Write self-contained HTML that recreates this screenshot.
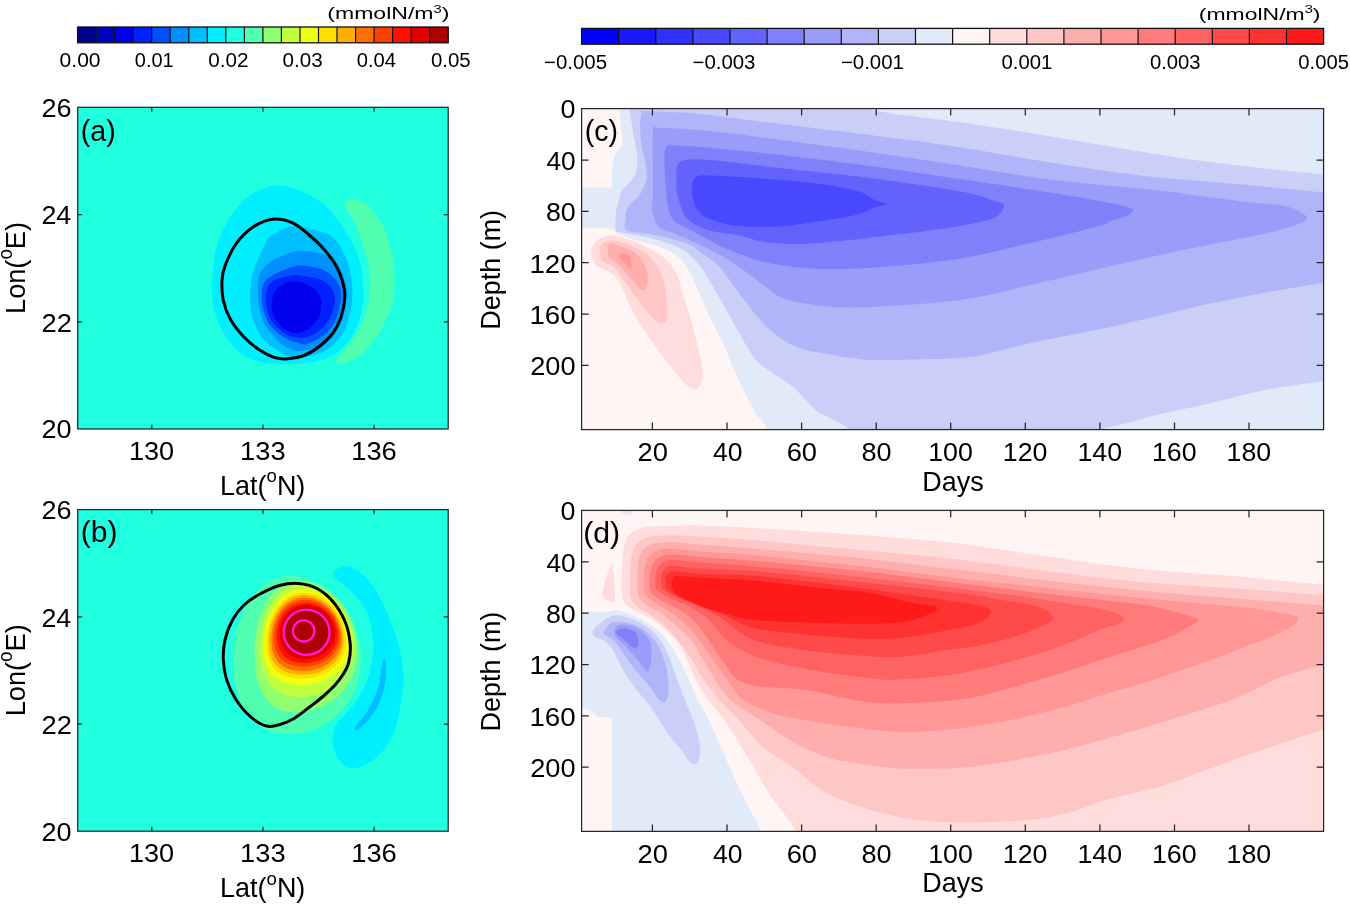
<!DOCTYPE html><html><head><meta charset="utf-8"><style>html,body{margin:0;padding:0;background:#fff;}svg{display:block;}text{font-family:"Liberation Sans", sans-serif;fill:#000;}</style></head><body>
<svg width="1350" height="906" viewBox="0 0 1350 906">
<rect width="1350" height="906" fill="#fff"/>
<defs><clipPath id="ca"><rect x="77.7" y="107.3" width="370.5" height="321.7"/></clipPath><clipPath id="cb"><rect x="77.7" y="509.6" width="370.5" height="321.6"/></clipPath><clipPath id="cc"><rect x="581.6" y="108.6" width="742" height="321"/></clipPath><clipPath id="cd"><rect x="581.6" y="510.4" width="742" height="321"/></clipPath><filter id="gs" x="0" y="0" width="1350" height="906" filterUnits="userSpaceOnUse"><feOffset dx="0" dy="0"/></filter></defs>
<g clip-path="url(#ca)">
<rect x="77.7" y="107.3" width="370.5" height="321.7" fill="#20FFDF"/>
<path d="M274 185.5C279.3 184.9 284.6 186.2 290 187.5C295.4 188.8 300.4 190 306.5 193.2C312.6 196.4 320.4 201 326.4 206.5C332.4 212 337.7 219.8 342.3 226.4C346.9 233 351.1 239.6 354.2 246.2C357.3 252.8 359.3 259.5 360.8 266.1C362.3 272.7 362.6 280.4 363 286C363.4 291.6 364 294.4 363.4 300C362.8 305.6 361.5 313.5 359.5 319.7C357.5 325.9 355 331.7 351.5 337C348 342.3 343.6 347.5 338.3 351.5C333 355.5 327.2 358.7 319.7 360.8C312.2 362.9 301.5 363.7 293.2 364.1C284.9 364.6 276.3 364.1 270 363.5C263.7 362.9 260.6 362.5 255.6 360.7C250.5 358.9 244.5 356.5 239.7 352.7C234.8 348.9 230.2 343.6 226.5 338.1C222.8 332.6 219.5 326 217.2 319.6C214.9 313.2 213.4 307.3 212.6 300C211.8 292.7 212 284.4 212.6 276C213.2 267.6 213.6 258.3 215.9 249.5C218.2 240.7 221.9 231.2 226.5 223C231.1 214.8 238.4 205.8 243.7 200.5C248.9 195.2 252.9 193.5 258 191C263.1 188.5 268.7 186.1 274 185.5Z" fill="#00EFFF"/>
<path d="M345 203C345.7 201.6 348.3 200.1 350 199.5C351.7 198.9 352.5 198.9 355 199.5C357.5 200.1 361.4 200.4 365 203C368.6 205.6 373.3 210.8 376.6 215.3C379.9 219.8 382.8 224.8 385 230C387.2 235.2 388.4 240.4 389.8 246.2C391.2 252 392.8 259.5 393.5 265C394.2 270.5 394.6 272.9 394.3 279.3C394.1 285.7 394.2 295.1 392 303.6C389.8 312.1 386.1 321.6 381 330.1C375.9 338.6 367.7 348.9 361.1 354.4C354.5 359.9 345.4 362.1 341.3 363.2C337.2 364.3 335.7 363.5 336.5 361C337.3 358.5 342 353.7 346 348C350 342.3 356.8 334.8 360.5 327C364.2 319.2 366.9 308.9 368.5 301C370.1 293.1 370.5 287.3 370 279.3C369.5 271.3 368 262 365.5 252.8C363 243.6 358.3 231.5 355 224C351.7 216.5 347.4 211.5 345.7 208C344 204.5 344.3 204.4 345 203Z" fill="#50FFAF"/>
<path d="M285.6 227.8C288.6 226.7 291.4 226.1 294.4 226C297.3 225.9 299.8 226.5 303.3 227.2C306.8 227.9 310.8 228.8 315.2 230.1C319.6 231.4 325.9 232.3 330 235C334.1 237.7 337.1 241.7 340 246.2C342.9 250.7 345.6 256.4 347.5 262.1C349.4 267.9 350.7 274.4 351.5 280.7C352.3 287 352.9 293.1 352.2 300C351.5 306.9 349.8 315.8 347.5 322.4C345.2 329 342.3 334.8 338.3 339.6C334.3 344.5 329.4 348.6 323.7 351.5C317.9 354.4 309.4 356.1 303.8 357C298.2 357.9 294.1 357.9 290 357C285.9 356.1 283.9 354.3 279.5 351.4C275.1 348.5 268 344.8 263.6 339.5C259.2 334.2 255.2 326.2 253 319.6C250.8 313 250.7 305.8 250.3 300C249.9 294.2 250.3 290 250.8 285C251.3 280 252.3 274.2 253.5 270C254.7 265.8 255.3 265.1 257.7 260C260.1 254.9 264.6 244.2 267.8 239.6C271 235 273.7 234.5 276.7 232.5C279.7 230.5 282.7 228.9 285.6 227.8Z" fill="#00BFFF"/>
<path d="M295 251.5C299.1 250.8 301.7 251.1 306.5 251.5C311.3 251.9 318.8 252.4 323.7 254.2C328.6 256 332.4 258.6 335.6 262.1C338.8 265.6 341.2 270.8 343 275.4C344.8 280 346 285.9 346.5 290C347 294.1 346.9 295.1 346.2 300C345.5 304.9 344.5 313.8 342.3 319.7C340.1 325.6 336.8 331.2 333 335.6C329.2 340 325.2 343.6 319.7 346.2C314.2 348.8 305.6 350.9 300 351C294.4 351.1 289.9 348.9 286 347C282.1 345.1 280.5 343.6 276.8 339.5C273.1 335.4 266.7 328.9 263.6 322.3C260.5 315.7 259.2 307.1 258.3 300C257.4 292.9 257.7 285 258.3 280C258.9 275 260.1 273 262 270C263.9 267 266.6 264.3 270 262C273.4 259.7 277.9 257.8 282.1 256C286.3 254.2 290.9 252.2 295 251.5Z" fill="#008FFF"/>
<path d="M300 265.5C304.8 265.2 310.6 266.5 315 267.5C319.4 268.5 322.9 269.3 326.4 271.4C329.9 273.5 333.6 276.9 336 280C338.4 283.1 339.7 286.7 340.5 290C341.3 293.3 341.7 295.1 340.9 300C340.1 304.9 338.5 313.8 335.6 319.7C332.7 325.6 328.6 331.6 323.7 335.6C318.8 339.7 310.6 342.7 306.5 344C302.4 345.3 302.2 343.9 299.3 343.2C296.4 342.5 292.1 341.4 289 340C285.9 338.6 284.4 337.7 281 335C277.6 332.3 272 328.8 268.9 323.6C265.8 318.4 263.3 310.1 262.3 303.7C261.3 297.3 261.5 289.6 263 285C264.5 280.4 267.6 278.7 271.5 276C275.4 273.3 281.4 270.8 286.1 269C290.9 267.2 295.2 265.8 300 265.5Z" fill="#0050FF"/>
<path d="M290 276C294.1 275.2 294.9 274.8 299.9 275.4C304.8 275.9 314.5 277.3 319.7 279.3C324.9 281.3 328.4 283.9 331 287.3C333.6 290.8 335.1 295 335 300C334.9 305 332.9 312.1 330.3 317.1C327.8 322.2 323.9 326.9 319.7 330.3C315.5 333.7 309.9 336.6 305 337.5C300.1 338.4 294.6 337.6 290.1 336C285.6 334.4 281.4 331 278 328C274.6 325 272 322.1 270 318C268 313.9 266.6 308.7 266.2 303.7C265.8 298.7 266 291.9 267.5 288C269 284.1 271.2 282 275 280C278.8 278 285.9 276.8 290 276Z" fill="#0020FF"/>
<path d="M292.7 281.3C296.5 281.1 301.1 282.1 305 283.5C308.9 284.9 313.3 287.2 316 290C318.7 292.8 320.3 295.8 321 300C321.7 304.2 321.7 310.5 320 315C318.3 319.5 314.7 324 311 327C307.3 330 302.2 332.5 298 333C293.8 333.5 289.7 332.2 286 330C282.3 327.8 278.4 323.7 276 320C273.6 316.3 271.8 312.2 271.5 307.7C271.2 303.2 272.4 296.9 274.2 293.1C275.9 289.3 278.9 287 282 285C285.1 283 288.9 281.6 292.7 281.3Z" fill="#0000EF"/>
<path d="M274.5 219C281.2 218.4 287.4 220.5 293.2 223.2C299 225.9 304 230.7 309.1 235C314.2 239.3 319.3 243.9 323.7 248.9C328.1 253.9 332.5 259.5 335.6 264.8C338.7 270.1 340.8 275.3 342.3 280.7C343.8 286.1 345 290.9 344.8 297C344.6 303.1 343 311.1 341 317.1C339 323.1 336.6 328.1 333 333C329.4 337.9 324.5 342.4 319.7 346.2C314.9 349.9 309.3 353.4 304 355.5C298.7 357.6 293 358.5 288 358.8C283 359.1 278.9 358.9 274.2 357.4C269.5 355.9 264.7 353.4 259.6 350C254.5 346.6 248.5 341.9 243.7 336.8C238.8 331.7 233.9 325.7 230.5 319.6C227.1 313.5 224.6 306.6 223.2 300C221.8 293.4 221.7 285.8 222 280C222.3 274.2 222.9 271.4 225.2 265.4C227.5 259.4 231.2 250.6 235.8 244.2C240.4 237.8 246.6 231.2 253 227C259.4 222.8 267.8 219.6 274.5 219Z" fill="none" stroke="#000" stroke-width="3"/>
</g>
<g clip-path="url(#cb)">
<rect x="77.7" y="509.6" width="370.5" height="321.6" fill="#20FFDF"/>
<path d="M335.2 570.3C337.8 568.4 344.6 564.4 350.5 566.5C356.4 568.6 364.5 574.8 370.8 583C377.1 591.2 383.4 603.7 388.5 616C393.6 628.3 398.9 643.9 401.2 656.6C403.5 669.3 403.8 679.4 402.5 692.1C401.2 704.8 398.1 721.7 393.6 732.7C389.2 743.7 382.6 752.2 375.8 758.1C369 764 359.3 768.3 353 768.3C346.7 768.3 341.2 763.2 337.8 758.1C334.4 753 332.7 743.7 332.7 737.8C332.7 731.9 334 728.5 337.8 722.6C341.6 716.7 350.4 709.9 355.5 702.3C360.6 694.7 365.2 686.2 368.2 676.9C371.2 667.6 373.3 656.5 373.3 646.4C373.3 636.2 371.6 624.9 368.2 616C364.8 607.1 358.5 599.5 353 593.1C347.5 586.8 338.2 581.7 335.2 577.9C332.2 574.1 332.6 572.2 335.2 570.3Z" fill="#00EFFF"/>
<path d="M384.7 659.1C385.4 661.1 386.9 669.7 386 676.9C385.1 684.1 382.6 695.1 379.6 702.3C376.6 709.5 372 715.4 368.2 720C364.4 724.6 358.8 729.2 356.8 730.2C354.8 731.2 354.1 729.4 356 726C357.9 722.6 364.5 716.4 368.2 709.9C371.9 703.4 376.1 694.6 378.4 687.1C380.7 679.6 380.9 669.7 382 665C383.1 660.3 384 657.1 384.7 659.1Z" fill="#00BFFF"/>
<path d="M361 660C361 662.3 360.9 664.3 360.7 666.4C360.6 668.6 360.3 670.7 359.9 672.8C359.6 675 359.1 677.1 358.6 679.2C358 681.2 357.4 683.3 356.7 685.3C356 687.3 355.2 689.3 354.3 691.3C353.5 693.2 352.5 695.1 351.5 697C350.5 698.9 349.3 700.7 348.2 702.4C347 704.2 345.7 705.9 344.4 707.6C343.1 709.2 341.7 710.8 340.2 712.3C338.7 713.8 337.2 715.3 335.6 716.7C334.1 718.1 332.4 719.4 330.7 720.6C329 721.9 327.3 723 325.5 724.1C323.7 725.2 321.9 726.2 320 727.1C318.1 728 316.2 728.8 314.3 729.5C312.3 730.3 310.4 730.9 308.4 731.5C306.4 732 304.4 732.5 302.3 732.9C300.3 733.2 298.2 733.5 296.2 733.7C294.1 733.9 292.2 734 290 734C287.8 734 285.2 733.9 283.2 733.8C281.1 733.6 279.4 733.3 277.6 733C275.8 732.7 274.1 732.3 272.4 731.8C270.7 731.3 269.1 730.7 267.6 730.1C266 729.5 264.5 728.7 263 727.9C261.6 727.1 260.2 726.3 258.8 725.3C257.4 724.3 256.1 723.3 254.8 722.2C253.6 721.1 252.4 719.9 251.2 718.7C250 717.4 248.9 716.1 247.8 714.7C246.8 713.4 245.7 711.9 244.8 710.4C243.8 708.9 242.9 707.3 242.1 705.6C241.2 704 240.4 702.3 239.7 700.5C239 698.7 238.3 696.9 237.7 695C237.1 693.1 236.5 691.1 236 689.1C235.5 687.1 235.1 685 234.7 682.8C234.3 680.7 234 678.5 233.8 676.1C233.5 673.8 233.3 671.6 233.2 668.9C233.1 666.2 233 662.7 233 660C233 657.3 233.1 655.1 233.2 652.7C233.4 650.2 233.6 647.8 233.9 645.4C234.2 643 234.5 640.6 234.9 638.3C235.4 635.9 235.9 633.6 236.4 631.3C237 629 237.6 626.7 238.3 624.5C239 622.3 239.8 620.1 240.6 618C241.5 615.9 242.4 613.8 243.3 611.8C244.3 609.8 245.3 607.9 246.3 606C247.4 604.1 248.5 602.3 249.7 600.6C250.9 598.9 252.1 597.2 253.4 595.7C254.6 594.1 255.9 592.6 257.3 591.2C258.7 589.8 260.1 588.5 261.5 587.3C262.9 586 264.4 584.9 265.9 583.9C267.4 582.8 268.9 581.9 270.5 581.1C272.1 580.2 273.6 579.5 275.2 578.9C276.8 578.2 278.5 577.7 280.1 577.3C281.7 576.9 283.4 576.5 285 576.3C286.7 576.1 288.1 576 290 576C291.9 576 294.1 576.1 296.2 576.3C298.2 576.5 300.3 576.9 302.3 577.3C304.4 577.7 306.4 578.2 308.4 578.9C310.4 579.5 312.3 580.2 314.3 581.1C316.2 581.9 318.1 582.8 320 583.9C321.9 584.9 323.7 586 325.5 587.3C327.3 588.5 329 589.8 330.7 591.2C332.4 592.6 334.1 594.1 335.6 595.7C337.2 597.2 338.7 598.9 340.2 600.6C341.7 602.3 343.1 604.1 344.4 606C345.7 607.9 347 609.8 348.2 611.8C349.3 613.8 350.5 615.9 351.5 618C352.5 620.1 353.5 622.3 354.3 624.5C355.2 626.7 356 629 356.7 631.3C357.4 633.6 358 635.9 358.6 638.3C359.1 640.6 359.6 643 359.9 645.4C360.3 647.8 360.6 650.2 360.7 652.7C360.9 655.1 361 657.7 361 660Z" fill="#50FFAF"/>
<path d="M357.4 652C357.4 653.9 357.3 655.5 357.2 657.2C357 659 356.8 660.7 356.5 662.4C356.2 664.1 355.8 665.8 355.3 667.5C354.8 669.2 354.3 670.9 353.7 672.5C353.1 674.2 352.4 675.8 351.6 677.4C350.9 678.9 350.1 680.5 349.2 682C348.3 683.5 347.3 685 346.3 686.4C345.3 687.8 344.2 689.2 343 690.6C341.9 691.9 340.7 693.2 339.4 694.4C338.2 695.7 336.8 696.8 335.5 698C334.1 699.1 332.7 700.1 331.2 701.1C329.8 702.1 328.2 703.1 326.7 704C325.2 704.8 323.6 705.6 321.9 706.4C320.3 707.1 318.7 707.8 317 708.4C315.3 709 313.6 709.5 311.9 710C310.2 710.4 308.4 710.8 306.7 711.1C304.9 711.4 303.1 711.6 301.4 711.8C299.6 711.9 297.8 712 296 712C294.2 712 292.2 711.9 290.6 711.8C289 711.7 287.7 711.5 286.4 711.2C285 711 283.8 710.7 282.5 710.3C281.3 709.9 280.2 709.5 279 709C277.9 708.5 276.8 707.9 275.8 707.3C274.7 706.7 273.7 706 272.7 705.2C271.7 704.5 270.8 703.7 269.9 702.8C269 701.9 268.1 701 267.3 700.1C266.5 699.1 265.7 698 264.9 696.9C264.2 695.9 263.4 694.7 262.8 693.5C262.1 692.3 261.5 691.1 260.9 689.8C260.3 688.4 259.7 687.1 259.2 685.7C258.7 684.3 258.2 682.8 257.8 681.3C257.3 679.7 256.9 678.2 256.6 676.5C256.2 674.9 255.9 673.2 255.7 671.5C255.4 669.7 255.2 667.9 255 665.9C254.9 664 254.7 662.2 254.6 659.9C254.5 657.5 254.5 654.3 254.5 652C254.5 649.7 254.6 647.9 254.7 645.8C254.8 643.8 254.9 641.7 255.1 639.7C255.3 637.6 255.6 635.6 255.9 633.6C256.2 631.6 256.6 629.7 257 627.7C257.4 625.8 257.9 623.9 258.4 622C258.9 620.1 259.5 618.3 260.1 616.5C260.7 614.7 261.3 613 262 611.3C262.7 609.6 263.4 607.9 264.2 606.4C265 604.8 265.8 603.3 266.7 601.8C267.5 600.3 268.4 598.9 269.3 597.6C270.2 596.3 271.2 595 272.2 593.8C273.2 592.7 274.2 591.5 275.2 590.5C276.3 589.5 277.4 588.5 278.5 587.7C279.6 586.8 280.7 586 281.8 585.3C282.9 584.6 284.1 584 285.3 583.4C286.4 582.9 287.6 582.4 288.8 582.1C290 581.7 291.2 581.4 292.4 581.3C293.6 581.1 294.5 581 296 581C297.5 581 299.6 581.1 301.4 581.3C303.1 581.4 304.9 581.7 306.7 582.1C308.4 582.4 310.2 582.9 311.9 583.4C313.6 584 315.3 584.6 317 585.3C318.7 586 320.3 586.8 321.9 587.7C323.6 588.5 325.2 589.5 326.7 590.5C328.2 591.5 329.8 592.7 331.2 593.8C332.7 595 334.1 596.3 335.5 597.6C336.8 598.9 338.2 600.3 339.4 601.8C340.7 603.3 341.9 604.8 343 606.4C344.2 607.9 345.3 609.6 346.3 611.3C347.3 613 348.3 614.7 349.2 616.5C350.1 618.3 350.9 620.1 351.6 622C352.4 623.9 353.1 625.8 353.7 627.7C354.3 629.7 354.8 631.6 355.3 633.6C355.8 635.6 356.2 637.6 356.5 639.7C356.8 641.7 357 643.8 357.2 645.8C357.3 647.9 357.4 650.1 357.4 652Z" fill="#8FFF70"/>
<path d="M354 648C354 649.6 353.9 650.9 353.8 652.3C353.7 653.7 353.5 655.1 353.2 656.5C352.9 657.9 352.6 659.3 352.2 660.7C351.8 662.1 351.3 663.4 350.7 664.8C350.2 666.1 349.6 667.4 348.9 668.7C348.3 670 347.5 671.3 346.8 672.5C346 673.7 345.1 674.9 344.2 676.1C343.3 677.3 342.4 678.4 341.4 679.5C340.4 680.6 339.3 681.6 338.2 682.6C337.1 683.7 335.9 684.6 334.7 685.5C333.5 686.5 332.3 687.3 331 688.1C329.7 689 328.4 689.7 327 690.4C325.6 691.1 324.2 691.8 322.8 692.4C321.4 693 319.9 693.6 318.5 694C317 694.5 315.5 695 314 695.3C312.5 695.7 310.9 696 309.4 696.3C307.8 696.5 306.3 696.7 304.7 696.8C303.1 696.9 301.7 697 300 697C298.3 697 296.3 696.9 294.8 696.8C293.2 696.7 292 696.6 290.7 696.4C289.4 696.2 288.2 695.9 287 695.6C285.9 695.3 284.7 694.9 283.6 694.5C282.5 694.1 281.5 693.7 280.5 693.1C279.5 692.6 278.5 692.1 277.6 691.5C276.6 690.9 275.7 690.2 274.8 689.5C274 688.8 273.1 688 272.3 687.2C271.5 686.4 270.8 685.6 270 684.7C269.3 683.8 268.6 682.9 268 681.9C267.3 680.9 266.7 679.9 266.1 678.8C265.6 677.8 265 676.7 264.5 675.5C264 674.3 263.6 673.1 263.1 671.9C262.7 670.7 262.4 669.4 262 668C261.7 666.7 261.4 665.3 261.1 663.9C260.9 662.4 260.7 661 260.5 659.4C260.3 657.8 260.2 656.3 260.1 654.4C260 652.5 260 650 260 648C260 646 260.1 644.3 260.2 642.5C260.3 640.7 260.4 638.9 260.6 637.1C260.8 635.3 261.1 633.5 261.4 631.7C261.7 629.9 262 628.2 262.4 626.5C262.8 624.7 263.3 623 263.7 621.4C264.2 619.7 264.8 618.1 265.4 616.5C265.9 614.9 266.6 613.4 267.2 611.9C267.9 610.4 268.6 608.9 269.4 607.5C270.1 606.1 270.9 604.7 271.7 603.5C272.5 602.2 273.4 600.9 274.3 599.7C275.2 598.6 276.1 597.4 277.1 596.4C278 595.3 279 594.4 280 593.4C281 592.5 282 591.7 283.1 590.9C284.1 590.1 285.2 589.4 286.3 588.8C287.4 588.2 288.5 587.6 289.6 587.1C290.8 586.7 291.9 586.3 293.1 586C294.2 585.6 295.4 585.4 296.5 585.2C297.7 585.1 298.6 585 300 585C301.4 585 303.1 585.1 304.7 585.2C306.3 585.4 307.8 585.6 309.4 586C310.9 586.3 312.5 586.7 314 587.1C315.5 587.6 317 588.2 318.5 588.8C319.9 589.4 321.4 590.1 322.8 590.9C324.2 591.7 325.6 592.5 327 593.4C328.4 594.4 329.7 595.3 331 596.4C332.3 597.4 333.5 598.6 334.7 599.7C335.9 600.9 337.1 602.2 338.2 603.5C339.3 604.7 340.4 606.1 341.4 607.5C342.4 608.9 343.3 610.4 344.2 611.9C345.1 613.4 346 614.9 346.8 616.5C347.5 618.1 348.3 619.7 348.9 621.4C349.6 623 350.2 624.7 350.7 626.5C351.3 628.2 351.8 629.9 352.2 631.7C352.6 633.5 352.9 635.3 353.2 637.1C353.5 638.9 353.7 640.7 353.8 642.5C353.9 644.3 354 646.4 354 648Z" fill="#BFFF40"/>
<path d="M350 645C350 646.4 349.9 647.3 349.8 648.5C349.7 649.6 349.5 650.8 349.3 651.9C349 653.1 348.7 654.2 348.4 655.4C348 656.5 347.6 657.6 347.1 658.7C346.6 659.8 346.1 660.9 345.5 661.9C344.9 663 344.3 664 343.6 665C342.9 666 342.1 667 341.3 667.9C340.5 668.9 339.7 669.8 338.8 670.7C337.9 671.6 336.9 672.5 335.9 673.3C335 674.1 333.9 674.9 332.9 675.6C331.8 676.4 330.7 677.1 329.5 677.8C328.4 678.4 327.2 679.1 326 679.6C324.8 680.2 323.5 680.8 322.3 681.3C321 681.7 319.7 682.2 318.4 682.6C317.1 683 315.8 683.3 314.4 683.6C313.1 683.9 311.7 684.2 310.3 684.4C309 684.6 307.6 684.7 306.2 684.8C304.8 684.9 303.6 685 302 685C300.4 685 298.1 685 296.5 684.9C295 684.8 293.8 684.7 292.5 684.5C291.2 684.4 290.1 684.1 288.9 683.9C287.8 683.7 286.7 683.4 285.7 683.1C284.6 682.7 283.6 682.4 282.7 682C281.7 681.6 280.8 681.1 279.9 680.7C279 680.2 278.1 679.7 277.3 679.1C276.5 678.5 275.7 678 275 677.3C274.2 676.7 273.5 676 272.8 675.3C272.1 674.6 271.5 673.9 270.9 673.1C270.3 672.3 269.7 671.5 269.2 670.6C268.6 669.8 268.1 668.9 267.7 668C267.2 667 266.8 666.1 266.4 665.1C266 664.1 265.7 663 265.4 662C265.1 660.9 264.8 659.7 264.6 658.6C264.3 657.4 264.1 656.2 264 654.9C263.8 653.5 263.7 652.3 263.6 650.7C263.5 649 263.5 646.8 263.5 645C263.5 643.2 263.5 641.7 263.6 640.1C263.7 638.5 263.9 636.9 264.1 635.3C264.3 633.7 264.5 632.1 264.8 630.5C265.1 628.9 265.4 627.4 265.8 625.8C266.2 624.3 266.6 622.8 267.1 621.3C267.6 619.9 268.1 618.4 268.7 617C269.2 615.6 269.8 614.2 270.5 612.9C271.1 611.5 271.8 610.3 272.5 609C273.2 607.8 274 606.6 274.8 605.4C275.6 604.3 276.4 603.1 277.3 602.1C278.1 601.1 279 600.1 279.9 599.1C280.8 598.2 281.8 597.3 282.8 596.5C283.7 595.7 284.7 594.9 285.7 594.2C286.7 593.6 287.8 592.9 288.8 592.4C289.9 591.8 291 591.3 292 590.9C293.1 590.5 294.2 590.1 295.3 589.9C296.4 589.6 297.5 589.4 298.6 589.2C299.8 589.1 300.7 589 302 589C303.3 589 304.8 589.1 306.2 589.2C307.6 589.4 309 589.6 310.3 589.9C311.7 590.1 313.1 590.5 314.4 590.9C315.8 591.3 317.1 591.8 318.4 592.4C319.7 592.9 321 593.6 322.3 594.2C323.5 594.9 324.8 595.7 326 596.5C327.2 597.3 328.4 598.2 329.5 599.1C330.7 600.1 331.8 601.1 332.9 602.1C333.9 603.1 335 604.3 335.9 605.4C336.9 606.6 337.9 607.8 338.8 609C339.7 610.3 340.5 611.5 341.3 612.9C342.1 614.2 342.9 615.6 343.6 617C344.3 618.4 344.9 619.9 345.5 621.3C346.1 622.8 346.6 624.3 347.1 625.8C347.6 627.4 348 628.9 348.4 630.5C348.7 632.1 349 633.7 349.3 635.3C349.5 636.9 349.7 638.5 349.8 640.1C349.9 641.7 350 643.6 350 645Z" fill="#EFFF10"/>
<path d="M346.1 643C346.1 644.2 346 645.1 345.9 646.1C345.8 647.1 345.7 648.1 345.4 649.2C345.2 650.2 345 651.2 344.6 652.2C344.3 653.2 343.9 654.2 343.5 655.1C343.1 656.1 342.6 657.1 342.1 658C341.5 658.9 341 659.9 340.3 660.8C339.7 661.6 339 662.5 338.3 663.4C337.6 664.2 336.8 665 336 665.8C335.2 666.6 334.4 667.4 333.5 668.1C332.6 668.8 331.7 669.5 330.7 670.2C329.7 670.9 328.7 671.5 327.7 672.1C326.7 672.7 325.6 673.2 324.6 673.7C323.5 674.3 322.3 674.7 321.2 675.2C320.1 675.6 318.9 676 317.7 676.4C316.6 676.7 315.4 677 314.2 677.3C312.9 677.6 311.7 677.8 310.5 678C309.3 678.1 308 678.3 306.8 678.4C305.5 678.5 304.5 678.5 303 678.5C301.5 678.5 299.3 678.5 297.8 678.4C296.3 678.3 295.2 678.2 294 678.1C292.8 677.9 291.7 677.7 290.7 677.5C289.6 677.3 288.6 677.1 287.6 676.8C286.6 676.5 285.6 676.2 284.7 675.8C283.8 675.5 282.9 675.1 282.1 674.6C281.3 674.2 280.4 673.8 279.7 673.3C278.9 672.8 278.1 672.2 277.4 671.7C276.7 671.1 276.1 670.5 275.4 669.9C274.8 669.3 274.2 668.6 273.6 667.9C273 667.2 272.5 666.5 272 665.8C271.5 665 271 664.2 270.6 663.4C270.1 662.6 269.7 661.7 269.4 660.8C269 659.9 268.7 659 268.4 658C268.1 657.1 267.8 656.1 267.6 655C267.4 654 267.2 652.9 267 651.7C266.9 650.6 266.8 649.5 266.7 648C266.6 646.6 266.6 644.6 266.6 643C266.6 641.4 266.6 640.1 266.7 638.6C266.8 637.1 267 635.7 267.2 634.2C267.3 632.8 267.6 631.3 267.8 629.9C268.1 628.5 268.4 627.1 268.8 625.7C269.2 624.3 269.6 623 270 621.7C270.5 620.3 270.9 619 271.5 617.8C272 616.5 272.6 615.2 273.2 614C273.8 612.8 274.4 611.7 275.1 610.5C275.8 609.4 276.5 608.3 277.3 607.3C278 606.3 278.8 605.3 279.6 604.3C280.4 603.4 281.3 602.5 282.1 601.6C283 600.8 283.9 600 284.8 599.3C285.7 598.5 286.7 597.9 287.6 597.2C288.6 596.6 289.6 596 290.6 595.5C291.5 595 292.6 594.6 293.6 594.2C294.6 593.8 295.6 593.5 296.7 593.3C297.7 593 298.8 592.8 299.8 592.7C300.9 592.6 301.8 592.5 303 592.5C304.2 592.5 305.5 592.6 306.8 592.7C308 592.8 309.3 593 310.5 593.3C311.7 593.5 312.9 593.8 314.2 594.2C315.4 594.6 316.6 595 317.7 595.5C318.9 596 320.1 596.6 321.2 597.2C322.3 597.9 323.5 598.5 324.5 599.3C325.6 600 326.7 600.8 327.7 601.6C328.7 602.5 329.7 603.4 330.7 604.3C331.7 605.3 332.6 606.3 333.5 607.3C334.4 608.3 335.2 609.4 336 610.5C336.8 611.7 337.6 612.8 338.3 614C339 615.2 339.7 616.5 340.3 617.8C341 619 341.5 620.3 342.1 621.7C342.6 623 343.1 624.3 343.5 625.7C343.9 627.1 344.3 628.5 344.6 629.9C345 631.3 345.2 632.8 345.4 634.2C345.7 635.7 345.8 637.1 345.9 638.6C346 640.1 346.1 641.8 346.1 643Z" fill="#FFDF00"/>
<path d="M343.4 641C343.4 642.2 343.3 643 343.2 643.9C343.1 644.9 343 645.9 342.8 646.8C342.6 647.8 342.3 648.7 342 649.7C341.7 650.6 341.4 651.5 341 652.5C340.6 653.4 340.2 654.3 339.7 655.2C339.2 656 338.6 656.9 338.1 657.8C337.5 658.6 336.8 659.4 336.2 660.2C335.5 661 334.8 661.8 334.1 662.5C333.3 663.3 332.5 664 331.7 664.7C330.9 665.4 330 666 329.1 666.7C328.3 667.3 327.3 667.9 326.4 668.4C325.4 669 324.5 669.5 323.4 670C322.4 670.5 321.4 671 320.4 671.4C319.3 671.8 318.2 672.1 317.1 672.5C316.1 672.8 314.9 673.1 313.8 673.4C312.7 673.6 311.6 673.8 310.4 674C309.3 674.2 308.1 674.3 307 674.4C305.8 674.5 304.9 674.5 303.5 674.5C302.1 674.5 300 674.5 298.6 674.4C297.1 674.3 296.1 674.2 294.9 674.1C293.8 674 292.8 673.8 291.7 673.6C290.7 673.4 289.7 673.1 288.8 672.9C287.8 672.6 286.9 672.3 286.1 672C285.2 671.6 284.4 671.3 283.6 670.9C282.8 670.5 282 670 281.3 669.6C280.5 669.1 279.8 668.6 279.1 668.1C278.5 667.5 277.8 667 277.2 666.4C276.6 665.8 276 665.2 275.5 664.5C274.9 663.9 274.4 663.2 273.9 662.5C273.4 661.8 273 661 272.6 660.2C272.2 659.5 271.8 658.7 271.4 657.8C271.1 657 270.8 656.1 270.5 655.2C270.2 654.3 270 653.4 269.7 652.4C269.5 651.4 269.4 650.4 269.2 649.3C269.1 648.2 269 647.1 268.9 645.8C268.8 644.4 268.8 642.5 268.8 641C268.8 639.5 268.8 638.3 268.9 637C269 635.7 269.2 634.3 269.3 633C269.5 631.7 269.7 630.4 270 629.1C270.2 627.8 270.5 626.5 270.9 625.3C271.2 624 271.6 622.8 272.1 621.6C272.5 620.3 272.9 619.2 273.4 618C274 616.8 274.5 615.7 275.1 614.6C275.7 613.5 276.3 612.5 276.9 611.4C277.6 610.4 278.3 609.4 279 608.5C279.7 607.5 280.4 606.6 281.2 605.8C282 604.9 282.8 604.1 283.6 603.3C284.4 602.6 285.3 601.8 286.1 601.2C287 600.5 287.9 599.9 288.8 599.3C289.7 598.7 290.7 598.2 291.6 597.8C292.6 597.3 293.5 596.9 294.5 596.6C295.5 596.2 296.5 595.9 297.5 595.7C298.5 595.5 299.5 595.3 300.5 595.2C301.5 595.1 302.4 595 303.5 595C304.6 595 305.8 595.1 307 595.2C308.1 595.3 309.3 595.5 310.4 595.7C311.6 595.9 312.7 596.2 313.8 596.6C314.9 596.9 316.1 597.3 317.1 597.8C318.2 598.2 319.3 598.7 320.4 599.3C321.4 599.9 322.4 600.5 323.4 601.2C324.5 601.8 325.4 602.6 326.4 603.3C327.3 604.1 328.3 604.9 329.1 605.8C330 606.6 330.9 607.5 331.7 608.5C332.5 609.4 333.3 610.4 334.1 611.4C334.8 612.5 335.5 613.5 336.2 614.6C336.8 615.7 337.5 616.8 338.1 618C338.6 619.2 339.2 620.3 339.7 621.6C340.2 622.8 340.6 624 341 625.3C341.4 626.5 341.7 627.8 342 629.1C342.3 630.4 342.6 631.7 342.8 633C343 634.3 343.1 635.7 343.2 637C343.3 638.3 343.4 639.8 343.4 641Z" fill="#FFAF00"/>
<path d="M341.5 639C341.5 640.1 341.5 640.9 341.4 641.8C341.3 642.7 341.1 643.6 340.9 644.6C340.7 645.5 340.5 646.4 340.2 647.3C339.9 648.2 339.6 649.1 339.2 649.9C338.9 650.8 338.4 651.7 338 652.5C337.5 653.4 337 654.2 336.5 655C335.9 655.8 335.3 656.6 334.7 657.4C334.1 658.1 333.4 658.9 332.7 659.6C332 660.3 331.3 661 330.5 661.6C329.7 662.3 328.9 662.9 328.1 663.5C327.3 664.1 326.4 664.7 325.5 665.2C324.6 665.7 323.7 666.2 322.8 666.7C321.8 667.2 320.8 667.6 319.8 668C318.9 668.4 317.8 668.8 316.8 669.1C315.8 669.4 314.8 669.7 313.7 669.9C312.7 670.2 311.6 670.4 310.5 670.5C309.4 670.7 308.4 670.8 307.3 670.9C306.2 671 305.3 671 304 671C302.7 671 300.7 671 299.4 670.9C298.1 670.8 297.1 670.7 296 670.6C294.9 670.5 293.9 670.3 293 670.1C292 669.9 291.1 669.7 290.2 669.4C289.3 669.2 288.5 668.9 287.7 668.6C286.9 668.3 286.1 667.9 285.3 667.5C284.6 667.1 283.9 666.7 283.2 666.3C282.5 665.8 281.8 665.4 281.2 664.9C280.5 664.4 279.9 663.8 279.4 663.3C278.8 662.7 278.3 662.1 277.7 661.5C277.2 660.8 276.7 660.2 276.3 659.5C275.8 658.8 275.4 658.1 275 657.4C274.6 656.6 274.3 655.9 274 655.1C273.6 654.3 273.3 653.4 273.1 652.6C272.8 651.7 272.6 650.8 272.4 649.9C272.2 648.9 272 647.9 271.9 646.9C271.8 645.8 271.7 644.9 271.6 643.5C271.5 642.2 271.5 640.4 271.5 639C271.5 637.6 271.5 636.6 271.6 635.4C271.7 634.2 271.8 633 272 631.8C272.2 630.6 272.4 629.4 272.6 628.3C272.9 627.1 273.1 625.9 273.5 624.8C273.8 623.7 274.1 622.6 274.5 621.5C274.9 620.4 275.4 619.3 275.9 618.2C276.3 617.2 276.8 616.2 277.4 615.2C277.9 614.2 278.5 613.2 279.1 612.3C279.7 611.4 280.4 610.5 281 609.7C281.7 608.8 282.4 608 283.1 607.2C283.8 606.4 284.6 605.7 285.4 605C286.1 604.3 286.9 603.7 287.8 603.1C288.6 602.5 289.4 601.9 290.3 601.4C291.1 600.9 292 600.4 292.9 600C293.8 599.6 294.7 599.2 295.6 598.9C296.5 598.6 297.4 598.3 298.4 598.1C299.3 597.9 300.2 597.8 301.2 597.7C302.1 597.6 303 597.5 304 597.5C305 597.5 306.2 597.6 307.3 597.7C308.4 597.8 309.4 597.9 310.5 598.1C311.6 598.3 312.7 598.6 313.7 598.9C314.8 599.2 315.8 599.6 316.8 600C317.8 600.4 318.9 600.9 319.8 601.4C320.8 601.9 321.8 602.5 322.8 603.1C323.7 603.7 324.6 604.3 325.5 605C326.4 605.7 327.3 606.4 328.1 607.2C328.9 608 329.7 608.8 330.5 609.7C331.3 610.5 332 611.4 332.7 612.3C333.4 613.2 334.1 614.2 334.7 615.2C335.3 616.2 335.9 617.2 336.5 618.2C337 619.3 337.5 620.4 338 621.5C338.4 622.6 338.9 623.7 339.2 624.8C339.6 625.9 339.9 627.1 340.2 628.3C340.5 629.4 340.7 630.6 340.9 631.8C341.1 633 341.3 634.2 341.4 635.4C341.5 636.6 341.5 637.9 341.5 639Z" fill="#FF7000"/>
<path d="M339.5 637C339.5 638 339.5 638.7 339.4 639.6C339.3 640.4 339.1 641.3 339 642.1C338.8 643 338.6 643.8 338.3 644.6C338 645.5 337.7 646.3 337.4 647.1C337 647.9 336.7 648.7 336.2 649.5C335.8 650.2 335.3 651 334.8 651.8C334.3 652.5 333.8 653.2 333.2 653.9C332.6 654.6 332 655.3 331.3 656C330.7 656.6 330 657.3 329.2 657.9C328.5 658.5 327.8 659 327 659.6C326.2 660.1 325.4 660.7 324.6 661.2C323.7 661.7 322.9 662.1 322 662.5C321.1 663 320.2 663.4 319.3 663.7C318.4 664.1 317.4 664.4 316.5 664.7C315.5 665 314.5 665.3 313.6 665.5C312.6 665.7 311.6 665.9 310.6 666.1C309.6 666.2 308.6 666.3 307.6 666.4C306.5 666.5 305.7 666.5 304.5 666.5C303.3 666.5 301.4 666.5 300.2 666.4C298.9 666.4 298 666.3 297 666.1C296 666 295.1 665.9 294.2 665.7C293.3 665.5 292.4 665.3 291.6 665.1C290.8 664.8 290 664.6 289.2 664.3C288.5 664 287.7 663.6 287 663.3C286.3 662.9 285.7 662.6 285 662.1C284.4 661.7 283.7 661.3 283.2 660.8C282.6 660.4 282 659.9 281.5 659.4C280.9 658.8 280.4 658.3 279.9 657.7C279.5 657.1 279 656.5 278.6 655.9C278.2 655.3 277.8 654.6 277.4 653.9C277 653.3 276.7 652.6 276.4 651.8C276.1 651.1 275.8 650.3 275.6 649.5C275.3 648.7 275.1 647.9 274.9 647C274.7 646.1 274.6 645.2 274.5 644.3C274.3 643.3 274.3 642.4 274.2 641.2C274.1 640 274.1 638.2 274.1 637C274.1 635.8 274.1 634.8 274.2 633.8C274.3 632.7 274.4 631.6 274.6 630.6C274.7 629.5 274.9 628.5 275.1 627.4C275.4 626.4 275.6 625.4 275.9 624.3C276.2 623.3 276.6 622.3 276.9 621.4C277.3 620.4 277.7 619.4 278.2 618.5C278.6 617.6 279.1 616.7 279.6 615.8C280.1 614.9 280.6 614 281.2 613.2C281.8 612.4 282.4 611.6 283 610.8C283.6 610.1 284.3 609.3 285 608.7C285.6 608 286.3 607.3 287.1 606.7C287.8 606.1 288.5 605.5 289.3 605C290.1 604.4 290.9 603.9 291.7 603.5C292.5 603 293.3 602.6 294.1 602.2C294.9 601.9 295.8 601.5 296.6 601.3C297.5 601 298.4 600.7 299.2 600.6C300.1 600.4 301 600.2 301.9 600.1C302.7 600 303.6 600 304.5 600C305.4 600 306.5 600 307.6 600.1C308.6 600.2 309.6 600.4 310.6 600.6C311.6 600.7 312.6 601 313.6 601.3C314.5 601.5 315.5 601.9 316.5 602.2C317.4 602.6 318.4 603 319.3 603.5C320.2 603.9 321.1 604.4 322 605C322.9 605.5 323.7 606.1 324.6 606.7C325.4 607.3 326.2 608 327 608.7C327.8 609.3 328.5 610.1 329.2 610.8C330 611.6 330.7 612.4 331.3 613.2C332 614 332.6 614.9 333.2 615.8C333.8 616.7 334.3 617.6 334.8 618.5C335.3 619.4 335.8 620.4 336.2 621.4C336.7 622.3 337 623.3 337.4 624.3C337.7 625.4 338 626.4 338.3 627.4C338.6 628.5 338.8 629.5 339 630.6C339.1 631.6 339.3 632.7 339.4 633.8C339.5 634.8 339.5 636 339.5 637Z" fill="#FF4000"/>
<path d="M337.5 635C337.5 635.9 337.5 636.6 337.4 637.4C337.3 638.3 337.2 639.1 337 639.9C336.8 640.7 336.6 641.5 336.4 642.2C336.1 643 335.9 643.8 335.5 644.6C335.2 645.3 334.9 646.1 334.5 646.8C334.1 647.6 333.6 648.3 333.1 649C332.7 649.7 332.2 650.4 331.6 651.1C331.1 651.7 330.5 652.4 329.9 653C329.3 653.6 328.6 654.2 328 654.8C327.3 655.4 326.6 655.9 325.9 656.4C325.2 657 324.4 657.5 323.6 657.9C322.9 658.4 322.1 658.8 321.2 659.2C320.4 659.7 319.6 660 318.7 660.4C317.9 660.7 317 661 316.1 661.3C315.2 661.6 314.3 661.8 313.4 662C312.5 662.3 311.6 662.4 310.6 662.6C309.7 662.7 308.8 662.8 307.8 662.9C306.9 663 306.1 663 305 663C303.9 663 302.4 663 301.3 662.9C300.2 662.9 299.4 662.8 298.4 662.6C297.5 662.5 296.7 662.4 295.9 662.2C295 662 294.2 661.8 293.5 661.6C292.7 661.4 292 661.1 291.2 660.8C290.5 660.5 289.8 660.2 289.2 659.8C288.5 659.5 287.9 659.1 287.3 658.7C286.6 658.3 286.1 657.9 285.5 657.4C284.9 657 284.4 656.5 283.9 656C283.4 655.5 282.9 654.9 282.4 654.4C282 653.8 281.5 653.2 281.1 652.6C280.7 652 280.3 651.4 280 650.7C279.6 650.1 279.3 649.4 279 648.7C278.7 647.9 278.5 647.2 278.2 646.5C278 645.7 277.8 644.9 277.6 644.1C277.4 643.3 277.3 642.4 277.2 641.5C277 640.6 276.9 639.7 276.9 638.7C276.8 637.6 276.8 636.1 276.8 635C276.8 633.9 276.8 633.1 276.9 632.2C277 631.3 277.1 630.4 277.2 629.4C277.4 628.5 277.5 627.6 277.8 626.7C278 625.8 278.2 624.9 278.5 624.1C278.8 623.2 279.1 622.3 279.4 621.5C279.8 620.6 280.2 619.8 280.6 619C281 618.2 281.4 617.4 281.9 616.6C282.4 615.9 282.9 615.1 283.4 614.4C283.9 613.7 284.5 613 285.1 612.4C285.6 611.7 286.2 611.1 286.9 610.5C287.5 609.9 288.2 609.3 288.8 608.8C289.5 608.3 290.2 607.8 290.9 607.3C291.6 606.8 292.3 606.4 293.1 606C293.8 605.6 294.6 605.2 295.4 604.9C296.1 604.6 296.9 604.3 297.7 604.1C298.5 603.8 299.3 603.6 300.1 603.5C300.9 603.3 301.7 603.2 302.5 603.1C303.4 603 304.1 603 305 603C305.9 603 306.9 603 307.8 603.1C308.8 603.2 309.7 603.3 310.6 603.5C311.6 603.6 312.5 603.8 313.4 604.1C314.3 604.3 315.2 604.6 316.1 604.9C317 605.2 317.9 605.6 318.7 606C319.6 606.4 320.4 606.8 321.2 607.3C322.1 607.8 322.9 608.3 323.6 608.8C324.4 609.3 325.2 609.9 325.9 610.5C326.6 611.1 327.3 611.7 328 612.4C328.6 613 329.3 613.7 329.9 614.4C330.5 615.1 331.1 615.9 331.6 616.6C332.2 617.4 332.7 618.2 333.1 619C333.6 619.8 334.1 620.6 334.5 621.5C334.9 622.3 335.2 623.2 335.5 624.1C335.9 624.9 336.1 625.8 336.4 626.7C336.6 627.6 336.8 628.5 337 629.4C337.2 630.4 337.3 631.3 337.4 632.2C337.5 633.1 337.5 634.1 337.5 635Z" fill="#FF1000"/>
<path d="M334.8 633C334.8 633.8 334.8 634.5 334.7 635.3C334.6 636 334.5 636.8 334.4 637.5C334.2 638.3 334 639 333.8 639.7C333.6 640.5 333.3 641.2 333 641.9C332.7 642.6 332.4 643.3 332.1 644C331.7 644.7 331.3 645.3 330.9 646C330.4 646.7 330 647.3 329.5 647.9C329 648.5 328.5 649.1 327.9 649.7C327.4 650.3 326.8 650.9 326.2 651.4C325.6 651.9 325 652.4 324.3 652.9C323.7 653.4 323 653.9 322.3 654.3C321.6 654.7 320.9 655.1 320.1 655.5C319.4 655.9 318.7 656.2 317.9 656.6C317.1 656.9 316.3 657.2 315.5 657.4C314.7 657.7 313.9 657.9 313.1 658.1C312.3 658.3 311.4 658.5 310.6 658.6C309.7 658.7 308.9 658.8 308.1 658.9C307.2 659 306.4 659 305.5 659C304.6 659 303.4 659 302.4 658.9C301.5 658.9 300.7 658.8 299.9 658.7C299.1 658.5 298.3 658.4 297.6 658.2C296.8 658.1 296.1 657.9 295.4 657.6C294.7 657.4 294.1 657.1 293.4 656.9C292.7 656.6 292.1 656.3 291.5 655.9C290.9 655.6 290.3 655.2 289.7 654.9C289.1 654.5 288.6 654.1 288.1 653.6C287.5 653.2 287 652.7 286.6 652.2C286.1 651.7 285.6 651.2 285.2 650.7C284.8 650.2 284.4 649.6 284 649C283.6 648.5 283.2 647.9 282.9 647.2C282.6 646.6 282.3 646 282 645.3C281.7 644.6 281.5 643.9 281.2 643.2C281 642.5 280.8 641.8 280.7 641C280.5 640.3 280.4 639.5 280.2 638.7C280.1 637.9 280 637.1 280 636.1C279.9 635.2 279.9 633.9 279.9 633C279.9 632.1 279.9 631.4 280 630.6C280.1 629.7 280.2 628.9 280.3 628.1C280.4 627.3 280.6 626.5 280.8 625.8C281 625 281.2 624.2 281.4 623.4C281.7 622.7 282 621.9 282.3 621.2C282.6 620.4 283 619.7 283.3 619C283.7 618.3 284.1 617.6 284.5 616.9C285 616.3 285.4 615.6 285.9 615C286.4 614.4 286.9 613.8 287.4 613.2C287.9 612.6 288.5 612.1 289 611.6C289.6 611 290.2 610.5 290.8 610.1C291.4 609.6 292.1 609.2 292.7 608.8C293.3 608.3 294 608 294.7 607.6C295.4 607.3 296 607 296.7 606.7C297.4 606.4 298.2 606.2 298.9 606C299.6 605.7 300.3 605.6 301.1 605.4C301.8 605.3 302.5 605.2 303.3 605.1C304 605 304.7 605 305.5 605C306.3 605 307.2 605 308.1 605.1C308.9 605.2 309.7 605.3 310.6 605.4C311.4 605.6 312.3 605.7 313.1 606C313.9 606.2 314.7 606.4 315.5 606.7C316.3 607 317.1 607.3 317.9 607.6C318.7 608 319.4 608.3 320.1 608.8C320.9 609.2 321.6 609.6 322.3 610.1C323 610.5 323.7 611 324.3 611.6C325 612.1 325.6 612.6 326.2 613.2C326.8 613.8 327.4 614.4 327.9 615C328.5 615.6 329 616.3 329.5 616.9C330 617.6 330.4 618.3 330.9 619C331.3 619.7 331.7 620.4 332.1 621.2C332.4 621.9 332.7 622.7 333 623.4C333.3 624.2 333.6 625 333.8 625.8C334 626.5 334.2 627.3 334.4 628.1C334.5 628.9 334.6 629.7 334.7 630.6C334.8 631.4 334.8 632.2 334.8 633Z" fill="#DF0000"/>
<path d="M331 631C331 631.7 331 632.3 330.9 633C330.8 633.7 330.7 634.3 330.6 635C330.5 635.7 330.3 636.3 330.1 637C330 637.6 329.7 638.2 329.5 638.9C329.2 639.5 329 640.1 328.7 640.7C328.4 641.3 328 641.9 327.7 642.5C327.3 643.1 326.9 643.6 326.5 644.2C326.1 644.7 325.6 645.3 325.2 645.8C324.7 646.3 324.2 646.8 323.7 647.3C323.2 647.7 322.6 648.2 322.1 648.6C321.5 649 320.9 649.5 320.3 649.8C319.7 650.2 319.1 650.6 318.5 650.9C317.9 651.3 317.2 651.6 316.6 651.8C315.9 652.1 315.2 652.4 314.6 652.6C313.9 652.8 313.2 653 312.5 653.2C311.8 653.4 311.1 653.5 310.3 653.7C309.6 653.8 308.9 653.9 308.2 653.9C307.5 654 306.8 654 306 654C305.2 654 304.3 654 303.6 653.9C302.8 653.9 302.1 653.8 301.4 653.7C300.7 653.6 300.1 653.4 299.4 653.3C298.8 653.1 298.1 652.9 297.5 652.7C296.9 652.5 296.3 652.3 295.7 652C295.1 651.8 294.6 651.5 294 651.2C293.5 650.9 292.9 650.5 292.4 650.2C291.9 649.8 291.4 649.5 290.9 649.1C290.5 648.7 290 648.2 289.6 647.8C289.1 647.3 288.7 646.9 288.3 646.4C287.9 645.9 287.6 645.4 287.2 644.9C286.9 644.4 286.6 643.8 286.3 643.2C286 642.7 285.7 642.1 285.4 641.5C285.2 640.9 284.9 640.3 284.7 639.7C284.5 639 284.4 638.4 284.2 637.7C284 637.1 283.9 636.4 283.8 635.7C283.7 635 283.6 634.3 283.6 633.5C283.5 632.7 283.5 631.8 283.5 631C283.5 630.2 283.5 629.7 283.6 629C283.6 628.3 283.7 627.7 283.8 627C284 626.3 284.1 625.7 284.3 625C284.4 624.4 284.6 623.8 284.9 623.1C285.1 622.5 285.3 621.9 285.6 621.3C285.9 620.7 286.2 620.1 286.5 619.5C286.8 618.9 287.2 618.4 287.6 617.8C287.9 617.3 288.3 616.7 288.8 616.2C289.2 615.7 289.6 615.2 290.1 614.7C290.6 614.3 291 613.8 291.5 613.4C292 613 292.6 612.5 293.1 612.2C293.6 611.8 294.2 611.4 294.8 611.1C295.3 610.7 295.9 610.4 296.5 610.2C297.1 609.9 297.7 609.6 298.3 609.4C298.9 609.2 299.5 609 300.2 608.8C300.8 608.6 301.4 608.5 302.1 608.3C302.7 608.2 303.4 608.1 304 608.1C304.7 608 305.3 608 306 608C306.7 608 307.5 608 308.2 608.1C308.9 608.1 309.6 608.2 310.3 608.3C311.1 608.5 311.8 608.6 312.5 608.8C313.2 609 313.9 609.2 314.6 609.4C315.2 609.6 315.9 609.9 316.6 610.2C317.2 610.4 317.9 610.7 318.5 611.1C319.1 611.4 319.7 611.8 320.3 612.2C320.9 612.5 321.5 613 322.1 613.4C322.6 613.8 323.2 614.3 323.7 614.7C324.2 615.2 324.7 615.7 325.2 616.2C325.6 616.7 326.1 617.3 326.5 617.8C326.9 618.4 327.3 618.9 327.7 619.5C328 620.1 328.4 620.7 328.7 621.3C329 621.9 329.2 622.5 329.5 623.1C329.7 623.8 330 624.4 330.1 625C330.3 625.7 330.5 626.3 330.6 627C330.7 627.7 330.8 628.3 330.9 629C331 629.7 331 630.3 331 631Z" fill="#AF0000"/>
<path d="M298.5 583.5C304.8 584 311.3 585.5 317 588.5C322.7 591.5 328.2 596.1 332.8 601.5C337.4 606.9 341.9 614.1 344.8 621C347.7 627.9 349.5 636 350.1 643C350.8 650 349.9 657.5 348.7 662.7C347.5 668 345.3 670.8 343 674.5C340.7 678.2 338.3 681.3 335 685C331.7 688.7 327.3 692.8 323 696.5C318.7 700.2 313.8 703.8 309 707.5C304.2 711.2 298.8 715.7 294 718.5C289.2 721.3 284.6 723.2 280 724.5C275.4 725.8 271.3 727.3 266.4 726C261.5 724.7 255.6 721.1 250.5 716.7C245.4 712.3 239.9 705.7 235.9 699.5C231.9 693.3 228.7 686.2 226.6 679.6C224.5 673 223.6 666.3 223.3 659.7C223 653.1 223.5 646.5 225 639.9C226.5 633.3 229.3 625.8 232.5 620C235.7 614.2 239.4 609.3 244 605C248.6 600.7 254.1 597.2 260 594C265.9 590.8 273.1 587.2 279.5 585.5C285.9 583.8 292.2 583 298.5 583.5Z" fill="none" stroke="#000" stroke-width="3"/>
<path d="M329.5 632.3C329.5 633 329.5 633.6 329.4 634.3C329.4 634.9 329.3 635.6 329.2 636.2C329 636.9 328.9 637.5 328.7 638.1C328.5 638.8 328.3 639.4 328.1 640C327.9 640.6 327.6 641.2 327.3 641.8C327.1 642.4 326.8 643 326.4 643.5C326.1 644.1 325.7 644.7 325.3 645.2C325 645.7 324.5 646.3 324.1 646.8C323.7 647.3 323.2 647.7 322.8 648.2C322.3 648.7 321.8 649.1 321.3 649.5C320.8 650 320.2 650.4 319.7 650.7C319.1 651.1 318.6 651.5 318 651.8C317.4 652.1 316.8 652.4 316.2 652.7C315.6 653 315 653.2 314.4 653.4C313.7 653.7 313.1 653.9 312.5 654C311.8 654.2 311.2 654.3 310.5 654.5C309.8 654.6 309.2 654.7 308.5 654.7C307.8 654.8 307.2 654.8 306.5 654.8C305.8 654.8 305.2 654.8 304.5 654.7C303.9 654.7 303.2 654.6 302.6 654.5C301.9 654.3 301.3 654.2 300.6 654C300 653.9 299.4 653.7 298.7 653.4C298.1 653.2 297.5 653 296.9 652.7C296.3 652.4 295.7 652.1 295.1 651.8C294.6 651.5 294 651.1 293.5 650.7C292.9 650.4 292.4 650 291.9 649.5C291.4 649.1 290.9 648.7 290.4 648.2C290 647.7 289.5 647.3 289.1 646.8C288.7 646.3 288.3 645.7 287.9 645.2C287.5 644.7 287.2 644.1 286.8 643.5C286.5 643 286.2 642.4 285.9 641.8C285.6 641.2 285.4 640.6 285.2 640C284.9 639.4 284.7 638.8 284.6 638.1C284.4 637.5 284.3 636.9 284.1 636.2C284 635.6 283.9 634.9 283.9 634.3C283.8 633.6 283.8 633 283.8 632.3C283.8 631.6 283.8 631 283.9 630.3C283.9 629.7 284 629 284.1 628.4C284.3 627.7 284.4 627.1 284.6 626.5C284.7 625.8 284.9 625.2 285.2 624.6C285.4 624 285.6 623.3 285.9 622.7C286.2 622.2 286.5 621.6 286.8 621C287.2 620.4 287.5 619.9 287.9 619.3C288.3 618.8 288.7 618.3 289.1 617.8C289.5 617.3 290 616.8 290.4 616.3C290.9 615.9 291.4 615.4 291.9 615C292.4 614.6 292.9 614.2 293.5 613.8C294 613.4 294.6 613.1 295.1 612.7C295.7 612.4 296.3 612.1 296.9 611.8C297.5 611.5 298.1 611.3 298.7 611.1C299.4 610.8 300 610.6 300.6 610.5C301.3 610.3 301.9 610.2 302.6 610C303.2 609.9 303.9 609.8 304.5 609.8C305.2 609.7 305.8 609.7 306.5 609.7C307.2 609.7 307.8 609.7 308.5 609.8C309.2 609.8 309.8 609.9 310.5 610C311.2 610.2 311.8 610.3 312.5 610.5C313.1 610.6 313.7 610.8 314.4 611.1C315 611.3 315.6 611.5 316.2 611.8C316.8 612.1 317.4 612.4 318 612.7C318.6 613.1 319.1 613.4 319.7 613.8C320.2 614.2 320.8 614.6 321.3 615C321.8 615.4 322.3 615.9 322.8 616.3C323.2 616.8 323.7 617.3 324.1 617.8C324.5 618.3 325 618.8 325.3 619.3C325.7 619.9 326.1 620.4 326.4 621C326.8 621.6 327.1 622.2 327.3 622.7C327.6 623.3 327.9 624 328.1 624.6C328.3 625.2 328.5 625.8 328.7 626.5C328.9 627.1 329 627.7 329.2 628.4C329.3 629 329.4 629.7 329.4 630.3C329.5 631 329.5 631.6 329.5 632.3Z" fill="none" stroke="#FF1ADC" stroke-width="2.3"/>
<path d="M314.3 631C314.3 631.3 314.3 631.6 314.3 631.9C314.2 632.2 314.2 632.5 314.1 632.8C314.1 633.1 314 633.4 313.9 633.7C313.9 634 313.8 634.3 313.7 634.6C313.6 634.9 313.4 635.2 313.3 635.4C313.2 635.7 313 636 312.9 636.2C312.7 636.5 312.6 636.8 312.4 637C312.2 637.3 312 637.5 311.8 637.7C311.6 638 311.4 638.2 311.2 638.4C311 638.6 310.7 638.8 310.5 639C310.3 639.2 310 639.4 309.8 639.6C309.5 639.8 309.3 639.9 309 640.1C308.7 640.2 308.5 640.4 308.2 640.5C307.9 640.6 307.6 640.8 307.3 640.9C307 641 306.7 641.1 306.4 641.1C306.1 641.2 305.8 641.3 305.5 641.3C305.2 641.4 304.9 641.4 304.6 641.5C304.3 641.5 304 641.5 303.7 641.5C303.4 641.5 303.1 641.5 302.8 641.5C302.5 641.4 302.2 641.4 301.9 641.3C301.6 641.3 301.3 641.2 301 641.1C300.7 641.1 300.4 641 300.1 640.9C299.8 640.8 299.5 640.6 299.2 640.5C298.9 640.4 298.7 640.2 298.4 640.1C298.1 639.9 297.9 639.8 297.6 639.6C297.4 639.4 297.1 639.2 296.9 639C296.7 638.8 296.4 638.6 296.2 638.4C296 638.2 295.8 638 295.6 637.7C295.4 637.5 295.2 637.3 295 637C294.8 636.8 294.7 636.5 294.5 636.2C294.4 636 294.2 635.7 294.1 635.4C294 635.2 293.8 634.9 293.7 634.6C293.6 634.3 293.5 634 293.5 633.7C293.4 633.4 293.3 633.1 293.3 632.8C293.2 632.5 293.2 632.2 293.1 631.9C293.1 631.6 293.1 631.3 293.1 631C293.1 630.7 293.1 630.4 293.1 630.1C293.2 629.8 293.2 629.4 293.3 629.1C293.3 628.8 293.4 628.5 293.5 628.2C293.5 627.9 293.6 627.6 293.7 627.3C293.8 627 294 626.8 294.1 626.5C294.2 626.2 294.4 625.9 294.5 625.6C294.7 625.4 294.8 625.1 295 624.9C295.2 624.6 295.4 624.4 295.6 624.1C295.8 623.9 296 623.7 296.2 623.4C296.4 623.2 296.7 623 296.9 622.8C297.1 622.6 297.4 622.4 297.6 622.2C297.9 622.1 298.1 621.9 298.4 621.7C298.7 621.6 298.9 621.4 299.2 621.3C299.5 621.2 299.8 621.1 300.1 620.9C300.4 620.8 300.7 620.7 301 620.7C301.3 620.6 301.6 620.5 301.9 620.5C302.2 620.4 302.5 620.4 302.8 620.3C303.1 620.3 303.4 620.3 303.7 620.3C304 620.3 304.3 620.3 304.6 620.3C304.9 620.4 305.2 620.4 305.5 620.5C305.8 620.5 306.1 620.6 306.4 620.7C306.7 620.7 307 620.8 307.3 620.9C307.6 621.1 307.9 621.2 308.2 621.3C308.5 621.4 308.7 621.6 309 621.7C309.3 621.9 309.5 622.1 309.8 622.2C310 622.4 310.3 622.6 310.5 622.8C310.7 623 311 623.2 311.2 623.4C311.4 623.7 311.6 623.9 311.8 624.1C312 624.4 312.2 624.6 312.4 624.9C312.6 625.1 312.7 625.4 312.9 625.6C313 625.9 313.2 626.2 313.3 626.5C313.4 626.8 313.6 627 313.7 627.3C313.8 627.6 313.9 627.9 313.9 628.2C314 628.5 314.1 628.8 314.1 629.1C314.2 629.4 314.2 629.8 314.3 630.1C314.3 630.4 314.3 630.7 314.3 631Z" fill="none" stroke="#FF1ADC" stroke-width="2.3"/>
</g>
<g clip-path="url(#cc)">
<rect x="581.6" y="108.6" width="742" height="321" fill="#FFF5F5"/>
<path d="M619.7 80C619.7 84.8 619.4 99.5 619.7 108.6C620 117.7 621.2 128.8 621.7 134.8C622.2 140.8 623.7 141.5 622.7 144.7C621.7 147.8 617.4 150.4 615.7 153.7C614.1 157 613.4 160.5 612.8 164.6C612.1 168.7 612 174.2 611.8 178C611.6 181.8 611.8 185.8 611.8 187.4L550 187.4L550 227.7L582 227.7C587 227.9 605.9 227.9 611.8 229C617.6 230.1 612.5 232.3 617.1 234.3C621.7 236.3 632.5 238.9 639.6 241C646.8 243.1 654 244.7 660 247C666 249.3 670.9 251.1 675.5 254.7C680.1 258.3 683.9 262.4 687.8 268.6C691.6 274.8 694.7 283.3 698.6 291.8C702.5 300.3 706.6 310.3 711 319.6C715.4 328.9 721 339 724.9 347.4C728.8 355.8 729.4 359.5 734.2 370C739 380.5 748.2 400.5 753.8 410.4C759.4 420.3 764.2 421.3 767.7 429.6C771.2 437.9 773.8 454.9 775 460L1360 460L1360 80Z" fill="#E0EAF8"/>
<path d="M629.7 80C629.7 84.8 629.1 99.5 629.7 108.6C630.4 117.7 632.4 127.1 633.6 134.8C634.8 142.5 636.6 148.9 637.1 154.7C637.6 160.5 637.5 165.2 636.6 169.5C635.7 173.8 633.9 177.2 631.6 180.5C629.3 183.8 625 185.5 622.7 189.4C620.4 193.3 618.9 199.7 617.8 203.9C616.6 208.1 616.1 210.3 615.8 214.5C615.5 218.7 615.1 226 615.8 229C616.5 232 615.8 231.2 619.8 232.3C623.8 233.4 632.9 234.3 639.6 235.7C646.3 237.1 652.7 238.4 660 240.8C667.3 243.2 676.5 245.8 683.2 250C689.9 254.2 695.7 261 700 266C704.3 271 704.9 273.1 709 280C713.1 286.9 719.7 298.1 724.9 307.3C730.1 316.5 734.9 326 740.4 335.1C745.9 344.2 749.2 353.3 758 362C766.8 370.7 783.5 379.1 793.2 387.2C802.9 395.3 807 403.3 816.3 410.4C825.6 417.5 842.3 421.3 848.8 429.6C855.2 437.9 854 454.9 855 460L1095 460L1099 429.6C1102.8 428.7 1111.8 426.9 1122 424.3C1132.2 421.7 1145.4 417.4 1160 413.9C1174.6 410.4 1191.6 407.5 1209.5 403.4C1227.4 399.3 1248.6 393.2 1267.5 389.5C1286.4 385.8 1307.6 383.3 1323 381.4C1338.4 379.5 1353.8 378.6 1360 378L1360 175L1323 174.4C1308.1 172.8 1261 168.3 1233.8 165C1206.6 161.7 1190 159.4 1160 154.7C1130 150 1085.5 142.1 1053.8 136.9C1022.1 131.8 999.8 128.2 970 123.8C940.2 119.4 893 114.6 875 110.6C857 106.6 864.5 105.1 862 100C859.5 94.9 860.3 83.3 860 80Z" fill="#C9CFF7"/>
<path d="M641.6 111C641.4 113.3 640.1 119.3 640.1 124.9C640.1 130.5 640.7 138.1 641.6 144.7C642.5 151.3 644.7 158.8 645.5 164.6C646.3 170.4 647.5 174.4 646.5 179.5C645.5 184.6 642.7 190.3 639.6 195C636.5 199.7 630 203.9 627.7 207.8C625.4 211.7 625.9 214.7 625.7 218.4C625.5 222.2 623 227.8 626.4 230.3C629.8 232.8 639.7 232.3 646.3 233.5C652.9 234.7 658.7 235.6 666.1 237.5C673.5 239.4 685.2 242.6 690.9 245C696.5 247.4 695.5 248.7 700 252C704.5 255.3 712.9 260.3 717.8 265C722.7 269.7 725.6 274.7 729.6 280C733.6 285.3 736.8 290.3 741.9 297C747 303.7 754 313.2 760.4 320C766.8 326.8 773.4 333.3 780 338C786.6 342.7 794 345.7 800 348C806 350.3 805.8 350.1 816.3 352C826.8 353.9 847.2 358.2 862.7 359.4C878.2 360.6 891.1 359.8 909 359.4C926.9 359 949.9 359.8 970 357.1C990.1 354.4 1008 347.8 1029.5 343.2C1051 338.6 1077.2 333.9 1099 329.3C1120.8 324.7 1141.6 319.6 1160 315.4C1178.4 311.1 1191.6 307.7 1209.5 303.8C1227.4 299.9 1248.6 295.7 1267.5 292.2C1286.4 288.7 1307.6 285.4 1323 283C1338.4 280.6 1353.8 278.8 1360 278L1360 195L1323 192.2C1308.1 190.8 1264.3 186.6 1233.8 183.8C1203.3 181 1170 178.9 1140 175.4C1110 171.9 1083.8 167.7 1053.8 163C1023.8 158.3 990.6 151.9 960 147.2C929.4 142.5 901.7 139.1 870 135C838.3 130.9 798.3 126.3 770 122.8C741.7 119.3 718.3 115.9 700 114C681.7 112.1 666.7 111.9 660 111.5Z" fill="#B1B4F9"/>
<path d="M653.5 128C652.3 131.7 652.8 141.3 652.7 150C652.6 158.7 653 172.3 653 180C653 187.7 653.1 191 652.9 196C652.7 201 651.6 206 652 210C652.4 214 653.7 217.1 655 220C656.3 222.9 656.2 225.2 660 227.7C663.8 230.2 671.1 232.2 677.8 235C684.5 237.8 693.3 241.7 700 244.8C706.7 247.9 711.9 250.4 717.8 253.7C723.7 257 729.7 260.4 735.6 264.4C741.5 268.3 747.6 273.1 753.3 277.4C759 281.7 764.7 286.4 770 290C775.3 293.6 777.3 296.5 785 299C792.7 301.5 803.3 303.6 816.3 305C829.2 306.4 838.8 308.1 862.7 307.3C886.7 306.5 932.2 303.7 960 300C987.8 296.3 1006.3 290.5 1029.5 285.3C1052.7 280.1 1077.2 274 1099 269C1120.8 264 1141.6 259.1 1160 255.1C1178.4 251 1194.1 247.8 1209.5 244.7C1224.9 241.6 1239.2 239.2 1252.6 236.3C1266 233.4 1280.9 230.1 1290 227C1299.1 223.9 1307.6 221 1307 217.6C1306.4 214.2 1295.4 208.8 1286.3 206.3C1277.2 203.8 1267 204.3 1252.6 202.6C1238.2 200.9 1215.4 198 1200 196C1184.6 194 1184.4 193.1 1160 190.4C1135.6 187.7 1087.1 184.2 1053.8 180C1020.5 175.8 990.6 170.2 960 165.5C929.4 160.8 900 156.3 870 152C840 147.7 808.3 143.4 780 139.7C751.7 136 720 131.9 700 130C680 128.1 667.8 128.3 660 128C652.2 127.7 654.7 124.3 653.5 128Z" fill="#9A9CF9"/>
<path d="M666.4 146.5C663.8 149.7 664.6 157.8 664.5 165C664.4 172.2 665.4 183.2 665.9 190C666.4 196.8 666.7 201 667.7 205.7C668.7 210.4 669.7 214.9 671.9 218.2C674.1 221.5 677.2 223.1 680.7 225.3C684.2 227.5 689.1 229.4 692.6 231.2C696.1 233 697.3 233.7 701.5 236C705.7 238.3 712.1 242.1 717.8 244.8C723.5 247.6 728.7 249.8 735.6 252.5C742.5 255.2 751.9 258.7 759.3 260.8C766.7 262.9 773.2 263.9 780 265C786.8 266.1 792 266.8 800 267.5C808 268.2 813.7 269.1 828 269C842.3 268.9 863.9 268.4 885.9 266.7C907.9 264.9 935.1 262.6 960 258.5C984.9 254.4 1011.8 247.4 1035 242C1058.2 236.6 1086.5 229.4 1099 226C1111.5 222.6 1104.9 223.3 1110 221.3C1115.1 219.3 1127.3 216.5 1129.8 214C1132.3 211.5 1137.7 209.8 1125 206.3C1112.3 202.8 1081.3 197.7 1053.8 193.2C1026.3 188.7 990.6 183.6 960 179.1C929.4 174.6 901.7 170.2 870 166C838.3 161.8 798.3 157 770 153.8C741.7 150.6 715 148.3 700 147C685 145.7 685.6 145.8 680 145.7C674.4 145.6 669 143.3 666.4 146.5Z" fill="#8080FB"/>
<path d="M678 164C675.8 166.6 676.8 170.7 676.6 175C676.4 179.3 676.1 185.4 676.6 190C677.1 194.6 678.2 198.5 679.6 202.8C681 207.1 682.7 212.5 684.9 215.8C687.1 219.2 689.4 220.7 692.6 222.9C695.9 225.1 700 227.3 704.4 228.9C708.8 230.5 713.4 231.3 719.3 232.4C725.2 233.5 733.3 234.1 740 235.5C746.7 236.9 752.6 239.7 759.3 241C766 242.3 773.2 243.1 780 243.6C786.8 244.1 790.1 244.4 800 244C809.9 243.6 821.3 243 839.5 241.2C857.7 239.4 888.9 235.6 909 233.1C929.1 230.6 945.7 228.6 960 226C974.3 223.4 987.4 221 994.7 217.6C1002 214.2 1004.1 208.2 1004 205.4C1003.9 202.6 1001.1 203 993.8 200.7C986.5 198.3 980.6 195.1 960 191.3C939.4 187.5 901.7 182.1 870 178C838.3 173.9 795 169.7 770 166.9C745 164.1 733.3 162.2 720 161C706.7 159.8 697 159 690 159.5C683 160 680.2 161.4 678 164Z" fill="#6262FD"/>
<path d="M700 175.5C693.8 176.4 694.3 179.6 693 182C691.7 184.4 692 187 692 190C692 193 692.4 196.7 693.2 199.8C694 202.9 694.8 205.9 696.7 208.7C698.6 211.5 701.1 214.3 704.4 216.4C707.7 218.5 711.8 219.6 716.3 221.1C720.8 222.6 725.5 224.4 731.1 225.3C736.7 226.2 743.5 226.6 750 226.8C756.5 227 763.5 226.7 770 226.5C776.5 226.3 775 227.3 788.8 225.5C802.5 223.7 838.1 218.8 852.5 215.7C866.9 212.6 869.4 208.9 875 207C880.6 205.1 886.3 205.6 886.3 204.4C886.3 203.2 879.7 202.2 875 200C870.3 197.8 867.2 194 858 191.3C848.8 188.6 834.7 186 820 184C805.3 182 785 180.3 770 179.1C755 177.8 741.7 177.1 730 176.5C718.3 175.9 706.2 174.6 700 175.5Z" fill="#4848FF"/>
<path d="M591.5 250C592.2 247.2 593.8 243.2 596 241C598.2 238.8 602.1 237.4 605 236.5C607.9 235.6 608.4 234.8 613.1 235.5C617.8 236.2 626.4 238.6 633 241C639.6 243.4 648.1 247.7 652.9 250.2C657.7 252.7 658.2 252.4 662 256C665.8 259.6 671.7 264.4 675.5 271.7C679.3 278.9 681.6 289.7 684.7 299.5C687.8 309.3 691.2 319.5 694 330.4C696.8 341.3 700.4 356.7 701.7 365C703 373.3 703 375.9 702 380C701 384.1 698.3 388.5 696 389.5C693.7 390.5 690.7 387.9 688 386C685.3 384.1 685 384.4 679.7 378C674.5 371.6 664.2 358.6 656.5 347.8C648.8 337 639.4 323.8 633.3 313C627.2 302.2 623.6 289.7 619.8 283C616 276.3 614.3 275.6 610.5 272.8C606.7 270 600.3 268.6 597.2 266.1C594.1 263.6 592.9 260.7 591.9 258C590.9 255.3 590.8 252.8 591.5 250Z" fill="#FFDDDD"/>
<path d="M600 251C599.8 248.2 599.8 246.2 601.5 244.5C603.2 242.8 606.6 240.8 610.5 240.5C614.4 240.2 620.1 241.4 625 243C629.9 244.6 635.7 247.5 640 250C644.3 252.5 647.8 254.7 651 258C654.2 261.4 657.2 265.4 659.5 270.1C661.8 274.8 663.5 280.2 664.8 286C666 291.8 666.7 299.3 667 305C667.3 310.7 667.7 316.9 666.5 320C665.3 323.1 662.4 324 660 323.5C657.6 323 654.5 319.5 652 317C649.5 314.5 648.2 312.6 644.9 308.4C641.6 304.2 635.1 296.2 632 292C628.9 287.8 628.3 285.8 626.3 283C624.3 280.2 621.8 278.1 619.8 275.4C617.8 272.7 617.4 269.4 614.5 267C611.6 264.6 604.9 263.7 602.5 261C600.1 258.3 600.2 253.8 600 251Z" fill="#FFC6C6"/>
<path d="M609.2 243.6C611.6 242.1 618.9 245.6 623.7 247.6C628.6 249.6 634.5 251.8 638.3 255.5C642.1 259.2 644.8 265.5 646.3 270.1C647.8 274.8 648.3 280.1 647.6 283.4C646.9 286.7 645.4 291.1 642.3 290C639.2 288.9 633 280.9 629 276.7C625 272.5 621.7 268.1 618.4 264.8C615.1 261.5 610.7 260.4 609.2 256.9C607.7 253.4 606.8 245.1 609.2 243.6Z" fill="#FFAEAE"/>
<path d="M618.4 255.5C618.2 253.8 621.7 253.3 623.7 253.5C625.7 253.7 629.2 254.3 630.4 256.9C631.6 259.4 631.9 267.7 631 268.8C630.1 269.9 627.1 265.7 625 263.5C622.9 261.3 618.6 257.2 618.4 255.5Z" fill="#FF9797"/>
</g>
<g clip-path="url(#cd)">
<rect x="581.6" y="510.4" width="742" height="321" fill="#FFF5F5"/>
<path d="M550 612.3L582 612.3C585.8 612.2 599.8 612 605 611.8C610.2 611.6 611.1 611.4 613.1 611C615.1 610.6 615.5 609.6 617 609.7C618.5 609.8 619.3 610.5 622 611.5C624.7 612.5 629 613.8 633 615.6C637 617.4 641.8 619.6 646.2 622.3C650.6 624.9 655.5 627.8 659.5 631.5C663.5 635.2 666.6 639.9 670 644.8C673.4 649.7 676.8 655.1 680 661C683.2 666.9 686 673.5 689 680C692 686.5 694.5 693.3 697.8 700C701.1 706.7 705.2 712.5 708.9 720C712.6 727.5 716.5 736.6 720.1 744.9C723.8 753.2 726.6 760.8 730.8 770C734.9 779.2 740 789.8 745 800C750 810.2 756.9 821.1 760.7 831.4C764.5 841.7 766.8 856.9 768 862L611.8 862L611.8 717.6C610.7 717.5 607.3 717.5 605 717.3C602.7 717.1 600.1 717.5 597.9 716.6C595.7 715.7 594.5 712.9 591.9 711.6C589.2 710.3 589 709.2 582 708.7C575 708.2 555.3 708.7 550 708.7Z" fill="#E0EAF8"/>
<path d="M621 511C621.5 510.2 625 509.5 627 509.5C629 509.5 632.5 510.2 633 511C633.5 511.8 631.5 513.8 630 514.3C628.5 514.8 625.5 514.8 624 514.3C622.5 513.8 620.5 511.8 621 511Z" fill="#E0EAF8"/>
<path d="M592.6 632.2C593.1 629.8 596.3 626.4 599.9 623.6C603.5 620.8 609.3 616.4 614.4 615.5C619.5 614.6 625 616.5 630.3 618.3C635.6 620.1 641.8 623.3 646.2 626.2C650.6 629.1 653.5 631.5 656.8 635.5C660.1 639.5 663.6 645.2 666.1 650.1C668.6 655 670 659.7 672 665C674 670.3 675.8 676.2 678 682C680.2 687.8 682.1 692.8 685 700C687.9 707.2 692.7 717.5 695.2 725.5C697.7 733.5 699.9 741.8 700.2 748C700.5 754.2 698.7 760.7 697 763C695.3 765.3 692.8 764.5 690 762C687.2 759.5 683.4 752.4 680 748C676.6 743.6 674.4 742.5 669.4 735.5C664.4 728.5 655.7 713.9 650 706C644.3 698.1 639.7 694.3 635 688C630.3 681.7 625.7 674.3 622 668C618.3 661.7 615.8 654.5 613 650C610.2 645.5 607.7 643 605 641C602.3 639 599.1 639.5 597 638C594.9 636.5 592.1 634.6 592.6 632.2Z" fill="#C9CFF7"/>
<path d="M603.8 632.2C604.5 629.8 608.7 623.7 613.1 622.3C617.5 620.9 624.8 622.1 630.3 623.6C635.8 625.1 641.6 627.8 646.2 631.5C650.8 635.2 655 641 658.1 646.1C661.2 651.2 663.1 656.7 664.8 662C666.4 667.3 667.4 672.7 668 678C668.6 683.3 669.1 689.9 668.4 694C667.7 698.1 665.9 702.2 664 702.7C662.1 703.2 659.4 699.8 657 697C654.6 694.2 652.8 690.2 649.5 686C646.2 681.8 640.9 676.8 637 672C633.1 667.2 629.5 661.8 626 657C622.5 652.2 618.8 646.3 616 643C613.2 639.7 611 638.8 609 637C607 635.2 603.1 634.7 603.8 632.2Z" fill="#B1B4F9"/>
<path d="M614.4 631.5C614.8 629.3 616.2 625.6 619.7 624.9C623.2 624.2 630.7 625.1 635.6 627.5C640.5 629.9 646.2 634.9 648.9 639.5C651.5 644.1 651.6 650.1 651.5 655.4C651.4 660.7 650.4 670.4 648.2 671.3C646 672.2 641.9 664.7 638.3 660.7C634.7 656.7 629.9 651.2 626.4 647.4C622.9 643.6 619.1 640.8 617.1 638.1C615.1 635.5 614 633.7 614.4 631.5Z" fill="#9A9CF9"/>
<path d="M615.8 632.2C615.8 630.3 620.4 628.1 623.7 628.2C627 628.3 633.2 630 635.6 632.8C638 635.6 638.7 642.4 638.3 644.8C637.9 647.2 635.4 648.3 633 647.4C630.6 646.5 626.6 642 623.7 639.5C620.8 637 615.8 634.1 615.8 632.2Z" fill="#8080FB"/>
<path d="M602.5 593.1C602.7 589.6 604.5 582.9 606 578C607.5 573.1 610.5 564.5 611.8 564C613.1 563.5 613.5 569.3 614 575C614.5 580.7 615.5 593.8 615.1 598.4C614.7 603 613.5 602.3 611.8 602.4C610.1 602.5 606.5 600.5 605 599C603.5 597.5 602.3 596.6 602.5 593.1Z" fill="#FFDDDD"/>
<path d="M1360 586C1353.8 585.8 1344.2 586.4 1323 584.7C1301.8 583 1263.5 578.6 1233 576C1202.5 573.4 1171.5 572.2 1140 568.8C1108.5 565.4 1075.5 560.1 1043.8 555.7C1012.1 551.3 980.6 546 950 542.5C919.4 539 888.3 537.2 860 535C831.7 532.8 806.7 531 780 529.4C753.3 527.8 717.5 526.1 700 525.5C682.5 524.9 683.3 525.8 675 526C666.7 526.2 656.2 526 650 526.5C643.8 527 641.5 527.6 638 529C634.5 530.4 631.3 532.3 629 535C626.7 537.7 625.1 540.8 624 545C622.9 549.2 622.9 554 622.5 560C622.1 566 621.7 575.2 621.6 581C621.5 586.8 621.3 591 622 595C622.7 599 623 602 626 605C629 608 635.2 610.3 640 613C644.8 615.7 650.3 617.8 655 621C659.7 624.2 663.4 627.2 668 632C672.6 636.8 678.2 642.2 682.7 650C687.2 657.8 691.1 670.7 695.3 679C699.5 687.3 703.3 693.2 708.1 700C712.9 706.8 718.9 712.5 724.3 720C729.7 727.5 735.2 736.6 740.3 744.9C745.4 753.2 750.1 761.6 755.1 770C760.1 778.4 765 787.5 770 795C775 802.5 780.8 808.9 785 815C789.2 821.1 792.5 823.6 795 831.4C797.5 839.2 799.2 856.9 800 862L1360 862Z" fill="#FFDDDD"/>
<path d="M1360 596C1353.8 595.8 1344.7 596.3 1323 595C1301.3 593.7 1260.5 590.2 1230 588C1199.5 585.8 1171 584.8 1140 581.9C1109 579 1075.5 574.6 1043.8 570.7C1012.1 566.8 980.6 562 950 558.5C919.4 555 891.7 553 860 550C828.3 547 786.7 542.9 760 540.6C733.3 538.4 714.2 537.3 700 536.5C685.8 535.7 682.5 535.7 675 535.6C667.5 535.5 660 535.5 655 536C650 536.5 648.2 537 645 538.5C641.8 540 638.2 542.1 636 545C633.8 547.9 632.5 551.8 631.5 556C630.5 560.2 630.2 565.8 630 570C629.8 574.2 629.8 576.3 630 581C630.2 585.7 629.7 593.7 631 598C632.3 602.3 634.5 604 638 607C641.5 610 647.2 612.5 652 616C656.8 619.5 662.3 623.5 667 628C671.7 632.5 675.8 637.7 680 643C684.2 648.3 688.1 654 692 660C695.9 666 698.8 672.3 703.3 679C707.8 685.7 713.3 693.2 719.3 700C725.3 706.8 732 712.3 739.1 720C746.2 727.7 752.9 737.9 762 746C771.1 754.1 782.2 760.1 794 768.4C805.8 776.7 814.8 787.9 832.5 796C850.2 804.1 877.2 812.8 900 817.2C922.8 821.6 944.7 822.5 969.5 822.5C994.3 822.5 1025.6 821.2 1049 817.2C1072.4 813.2 1091 804 1110 798.7C1129 793.4 1143.1 791.6 1163 785.4C1182.9 779.2 1209.3 768.7 1229.2 761.6C1249.1 754.5 1266.6 748.3 1282.2 743C1297.8 737.7 1310 733.6 1323 729.8C1336 726 1353.8 721.6 1360 720Z" fill="#FFC6C6"/>
<path d="M1360 607C1353.8 598.7 1344.7 606.9 1323 605.4C1301.3 603.9 1260.5 600.5 1230 598C1199.5 595.5 1171 593.4 1140 590.4C1109 587.4 1075.5 583.6 1043.8 580C1012.1 576.4 980.6 572.5 950 568.8C919.4 565.1 891.7 561.3 860 558C828.3 554.7 786.7 551.2 760 549C733.3 546.8 714.2 545.6 700 544.5C685.8 543.4 682 542.5 675 542.2C668 542 662.5 542.4 658 543C653.5 543.6 650.8 544.3 648 546C645.2 547.7 642.7 549.8 641 553C639.3 556.2 638.6 560.3 638 565C637.4 569.7 637.4 575.8 637.5 581C637.6 586.2 636.9 592 638.5 596C640.1 600 643.1 602 647 605C650.9 608 657.2 610.5 662 614C666.8 617.5 671 621.5 676 626C681 630.5 687.3 635.3 691.8 641C696.3 646.7 699.1 653.7 703 660C706.9 666.3 710.3 672.3 714.9 679C719.5 685.7 722.9 693.2 730.4 700C737.9 706.8 749.3 712.9 759.9 720C770.5 727.1 782.9 736.2 794 742.4C805.1 748.6 815.8 753.5 826.7 757C837.6 760.5 847.1 761.7 859.3 763.6C871.5 765.5 881.6 767.9 900 768.4C918.4 768.9 944.7 769.4 969.5 766.9C994.3 764.4 1025.6 758.5 1049 753.6C1072.4 748.7 1091 743 1110 737.7C1129 732.4 1143.1 728.1 1163 721.9C1182.9 715.7 1209.3 708.2 1229.2 700.7C1249.1 693.2 1266.6 682.8 1282.2 676.8C1297.8 670.8 1310 668.5 1323 664.9C1336 661.3 1353.8 664.6 1360 655C1366.2 645.4 1366.2 615.3 1360 607Z" fill="#FFAEAE"/>
<path d="M1297.6 620C1298.9 617.2 1299.1 617.1 1290 615C1280.9 612.9 1268.2 610.1 1243.2 607.3C1218.2 604.4 1173.2 601.2 1140 597.9C1106.8 594.6 1075.5 591 1043.8 587.5C1012.1 584 980.6 580.8 950 577.2C919.4 573.6 891.7 569.6 860 566C828.3 562.4 786.7 558.1 760 555.7C733.3 553.3 714.2 552.6 700 551.5C685.8 550.4 681.3 549.3 675 549C668.7 548.7 665.7 548.8 662 549.5C658.3 550.2 655.5 551.2 653 553C650.5 554.8 648.4 557.2 647 560C645.6 562.8 645 566.5 644.5 570C644 573.5 643.9 577 644 581C644.1 585 643.2 590.3 645 594C646.8 597.7 650.8 600 655 603C659.2 606 664.8 608.3 670 612C675.2 615.7 681 620.2 686 625C691 629.8 695.3 635.2 699.8 641C704.3 646.8 708.5 653.7 713 660C717.5 666.3 721.8 672.3 726.9 679C732 685.7 735.2 694 743.7 700C752.2 706 766.7 711.2 777.8 714.7C788.9 718.2 799.5 719.3 810.4 721.2C821.3 723.1 828.1 724.2 843 726C857.9 727.8 878.9 731.6 900 731.8C921.1 732 944.7 730.6 969.5 727.2C994.3 723.8 1025.6 717 1049 711.3C1072.4 705.5 1091 698.5 1110 692.7C1129 687 1143.1 683.4 1163 676.8C1182.9 670.2 1209.3 660.5 1229.2 653C1249.1 645.5 1270.8 637.3 1282.2 631.8C1293.6 626.3 1296.3 622.8 1297.6 620Z" fill="#FF9797"/>
<path d="M1198.2 620C1198.3 618.3 1195 618.2 1190 616.5C1185 614.8 1176.4 612 1168.1 610C1159.8 608 1160.7 607.2 1140 604.4C1119.3 601.6 1075.5 597 1043.8 593.2C1012.1 589.5 980.6 585.6 950 581.9C919.4 578.2 891.7 574.4 860 571C828.3 567.6 786.7 563.6 760 561.3C733.3 559 714.2 558.1 700 557C685.8 555.9 681 554.8 675 554.5C669 554.2 667 554.8 664 555.5C661 556.2 659 557.2 657 559C655 560.8 653.2 563.5 652 566C650.8 568.5 650.4 571.5 650 574C649.6 576.5 649.5 578 649.7 581C649.9 584 649 588.7 651 592C653 595.3 657.2 598 662 601C666.8 604 674.2 606.2 680 610C685.8 613.8 692.1 618.8 697 624C701.9 629.2 704.9 635 709.1 641C713.3 647 717.4 653.7 722 660C726.6 666.3 730.4 674.6 736.7 679C743 683.4 748.5 684.7 760 686.5C771.5 688.3 789.5 687.6 806 690C822.5 692.4 843.3 698.5 859 700.7C874.7 702.9 881.6 703.8 900 703.3C918.4 702.8 944.7 702.4 969.5 698C994.3 693.6 1025.6 683.6 1049 676.8C1072.4 670 1091 663.2 1110 657C1129 650.8 1149.8 644.8 1163 639.7C1176.2 634.6 1183.6 629.8 1189.5 626.5C1195.4 623.2 1198.1 621.7 1198.2 620Z" fill="#FF7A7A"/>
<path d="M1124.5 619.4C1124 617.5 1119.7 614.8 1115 612.9C1110.3 611 1111.3 610.9 1096.3 608.2C1081.3 605.5 1049.4 600.4 1025 596.9C1000.6 593.4 977.5 590.8 950 587.5C922.5 584.2 891.7 580.4 860 577C828.3 573.6 786.7 569.3 760 566.9C733.3 564.5 714.2 563.6 700 562.5C685.8 561.4 680.7 560.2 675 560C669.3 559.8 668.5 560.2 666 561C663.5 561.8 661.6 562.8 660 564.5C658.4 566.2 657.3 568.2 656.5 571C655.7 573.8 655.2 577.8 655.3 581C655.4 584.2 654.5 587.2 657 590C659.5 592.8 664.5 595.2 670 598C675.5 600.8 683.7 603.5 690 607C696.3 610.5 701.7 613.3 708 619C714.3 624.7 719.1 634.5 727.8 641C736.5 647.5 747 653.4 760 658C773 662.6 789.5 665.8 806 668.9C822.5 672 843.3 675 859 676.8C874.7 678.6 881.6 680.4 900 679.5C918.4 678.6 944.7 676.4 969.5 671.5C994.3 666.6 1026.9 657.4 1049 650.3C1071.1 643.2 1090.5 633.4 1102 629C1113.5 624.6 1114.2 625.6 1118 624C1121.8 622.4 1125 621.2 1124.5 619.4Z" fill="#FF6262"/>
<path d="M1053.2 618.5C1052.6 615.5 1047.8 610.3 1040 607.3C1032.2 604.3 1019.6 603.1 1006.3 600.7C993 598.4 984.4 596.3 960 593.2C935.6 590.1 893.3 585.6 860 582C826.7 578.4 786.7 573.9 760 571.6C733.3 569.4 714.2 569.5 700 568.5C685.8 567.5 680.3 566 675 565.7C669.7 565.4 670 565.8 668 566.5C666 567.2 664.2 568.4 663 570C661.8 571.6 661.3 574.2 661 576C660.7 577.8 660.7 578.8 661 581C661.3 583.2 660.2 586.2 663 589C665.8 591.8 672.2 595.2 678 598C683.8 600.8 691 602.8 698 606C705 609.2 710.8 611.4 720 617C729.2 622.6 738.7 634.2 753 639.7C767.3 645.2 788.3 647.6 806 650.3C823.7 652.9 843.3 654.5 859 655.6C874.7 656.7 884.8 658 900 657C915.2 656 937 651.4 950 649.5C963 647.6 967.1 647.9 978.1 645.7C989.1 643.5 1004.8 639.8 1015.7 636.3C1026.7 632.8 1037.5 628 1043.8 625C1050 622 1053.8 621.5 1053.2 618.5Z" fill="#FF4A4A"/>
<path d="M990.3 614C991.2 611.2 990.5 608.5 983.8 606.3C977.1 604.1 970.6 603.8 950 600.7C929.4 597.7 891.7 592.1 860 588C828.3 583.9 786.7 578.6 760 576.3C733.3 574 714.2 574.8 700 574C685.8 573.2 680.2 571.5 675 571.3C669.8 571 670.5 571.7 669 572.5C667.5 573.3 666.5 574.6 666 576C665.5 577.4 665.4 578.7 665.7 581C666 583.3 664.6 586.8 668 590C671.4 593.2 677.3 596.2 686 600C694.7 603.8 708.8 608.4 720 613C731.2 617.6 738.7 624.2 753 627.8C767.3 631.4 788.3 632.6 806 634.4C823.7 636.2 843.3 637.8 859 638.4C874.7 639 884.8 639.4 900 638C915.2 636.6 937 632.3 950 629.8C963 627.3 971.4 625.8 978.1 623.2C984.8 620.6 989.3 616.8 990.3 614Z" fill="#FF3232"/>
<path d="M937.3 607.3C934.8 605.1 920.8 605 910 602.6C899.2 600.2 888.2 595.7 872.6 593.2C857 590.7 835.1 589.5 816.3 587.5C797.5 585.5 779.4 582.7 760 581C740.6 579.3 713.8 578.3 700 577.5C686.2 576.7 681.5 575.9 677 576C672.5 576.1 674 576.8 673 578C672 579.2 670.8 580.3 671.3 583C671.8 585.7 671.5 590.3 676 594C680.5 597.7 690.7 602 698 605C705.3 608 710.8 609.8 720 612.3C729.2 614.8 738.7 618.2 753 619.9C767.3 621.6 788.3 621.9 806 622.5C823.7 623.1 843.3 623.8 859 623.8C874.7 623.8 889 623.9 900 622.5C911 621.1 918.8 618.2 925 615.7C931.2 613.2 939.8 609.5 937.3 607.3Z" fill="#FF1A1A"/>
</g>
<rect x="77.7" y="107.3" width="370.5" height="321.7" fill="none" stroke="#24272b" stroke-width="1.25"/><path d="M151.8 429v-4.5M151.8 107.3v4.5M262.9 429v-4.5M262.9 107.3v4.5M374.1 429v-4.5M374.1 107.3v4.5M77.7 321.8h4.5M448.2 321.8h-4.5M77.7 214.5h4.5M448.2 214.5h-4.5" stroke="#24272b" stroke-width="1.25" fill="none"/>
<rect x="77.7" y="509.6" width="370.5" height="321.6" fill="none" stroke="#24272b" stroke-width="1.25"/><path d="M151.8 831.2v-4.5M151.8 509.6v4.5M262.9 831.2v-4.5M262.9 509.6v4.5M374.1 831.2v-4.5M374.1 509.6v4.5M77.7 724h4.5M448.2 724h-4.5M77.7 616.8h4.5M448.2 616.8h-4.5" stroke="#24272b" stroke-width="1.25" fill="none"/>
<rect x="581.6" y="108.6" width="742" height="321" fill="none" stroke="#24272b" stroke-width="1.25"/><path d="M652.4 429.6v-7M652.4 108.6v7M727 429.6v-7M727 108.6v7M801.6 429.6v-7M801.6 108.6v7M876.2 429.6v-7M876.2 108.6v7M950.7 429.6v-7M950.7 108.6v7M1025.3 429.6v-7M1025.3 108.6v7M1099.9 429.6v-7M1099.9 108.6v7M1174.5 429.6v-7M1174.5 108.6v7M1249 429.6v-7M1249 108.6v7M581.6 160h7M1323.6 160h-7M581.6 211.3h7M1323.6 211.3h-7M581.6 262.7h7M1323.6 262.7h-7M581.6 314h7M1323.6 314h-7M581.6 365.4h7M1323.6 365.4h-7" stroke="#24272b" stroke-width="1.25" fill="none"/>
<rect x="581.6" y="510.4" width="742" height="321" fill="none" stroke="#24272b" stroke-width="1.25"/><path d="M652.4 831.4v-7M652.4 510.4v7M727 831.4v-7M727 510.4v7M801.6 831.4v-7M801.6 510.4v7M876.2 831.4v-7M876.2 510.4v7M950.7 831.4v-7M950.7 510.4v7M1025.3 831.4v-7M1025.3 510.4v7M1099.9 831.4v-7M1099.9 510.4v7M1174.5 831.4v-7M1174.5 510.4v7M1249 831.4v-7M1249 510.4v7M581.6 561.8h7M1323.6 561.8h-7M581.6 613.1h7M1323.6 613.1h-7M581.6 664.5h7M1323.6 664.5h-7M581.6 715.8h7M1323.6 715.8h-7M581.6 767.2h7M1323.6 767.2h-7" stroke="#24272b" stroke-width="1.25" fill="none"/>
<g filter="url(#gs)"><text transform="matrix(0.2102 0 0 0.1972 59.61 67.20)" font-size="100">0.00</text>
<text transform="matrix(0.1995 0 0 0.1972 134.87 67.20)" font-size="100">0.01</text>
<text transform="matrix(0.2070 0 0 0.1972 208.26 67.20)" font-size="100">0.02</text>
<text transform="matrix(0.2065 0 0 0.1972 282.43 67.20)" font-size="100">0.03</text>
<text transform="matrix(0.2021 0 0 0.1972 356.77 67.20)" font-size="100">0.04</text>
<text transform="matrix(0.2043 0 0 0.1972 430.88 67.20)" font-size="100">0.05</text>
<text transform="matrix(0.2043 0 0 0.1986 544.08 69.10)" font-size="100">−0.005</text>
<text transform="matrix(0.2043 0 0 0.1986 692.48 69.10)" font-size="100">−0.003</text>
<text transform="matrix(0.2043 0 0 0.1986 840.88 69.10)" font-size="100">−0.001</text>
<text transform="matrix(0.2033 0 0 0.1972 1001.49 69.10)" font-size="100">0.001</text>
<text transform="matrix(0.2025 0 0 0.1972 1149.89 69.10)" font-size="100">0.003</text>
<text transform="matrix(0.2025 0 0 0.1972 1298.29 69.10)" font-size="100">0.005</text>
<text transform="matrix(0.2303 0 0 0.1630 327.32 19.48)" font-size="100">(mmolN/m<tspan font-size="64" dy="-42">3</tspan><tspan font-size="100" dy="42">)</tspan></text>
<text transform="matrix(0.2297 0 0 0.1630 1198.82 19.78)" font-size="100">(mmolN/m<tspan font-size="64" dy="-42">3</tspan><tspan font-size="100" dy="42">)</tspan></text>
<text transform="matrix(0.2710 0 0 0.2592 128.93 460.24)" font-size="100">130</text>
<text transform="matrix(0.2727 0 0 0.2592 240.07 460.24)" font-size="100">133</text>
<text transform="matrix(0.2727 0 0 0.2592 351.22 460.24)" font-size="100">136</text>
<text transform="matrix(0.2706 0 0 0.2577 41.45 438.49)" font-size="100">20</text>
<text transform="matrix(0.2733 0 0 0.2614 41.43 331.52)" font-size="100">22</text>
<text transform="matrix(0.2680 0 0 0.2614 41.46 224.28)" font-size="100">24</text>
<text transform="matrix(0.2706 0 0 0.2577 41.45 116.79)" font-size="100">26</text>
<text transform="matrix(0.2699 0 0 0.2686 220.04 495.26)" font-size="100">Lat(<tspan font-size="69" dy="-48">o</tspan><tspan font-size="100" dy="48">N)</tspan></text>
<text transform="matrix(0 -0.2719 0.2800 0 25.22 313.98)" font-size="100">Lon(<tspan font-size="69" dy="-48">o</tspan><tspan font-size="100" dy="48">E)</tspan></text>
<text transform="matrix(0.2710 0 0 0.2592 128.93 862.44)" font-size="100">130</text>
<text transform="matrix(0.2727 0 0 0.2592 240.07 862.44)" font-size="100">133</text>
<text transform="matrix(0.2727 0 0 0.2592 351.22 862.44)" font-size="100">136</text>
<text transform="matrix(0.2706 0 0 0.2577 41.45 840.69)" font-size="100">20</text>
<text transform="matrix(0.2733 0 0 0.2614 41.43 733.75)" font-size="100">22</text>
<text transform="matrix(0.2680 0 0 0.2614 41.46 626.55)" font-size="100">24</text>
<text transform="matrix(0.2706 0 0 0.2577 41.45 519.09)" font-size="100">26</text>
<text transform="matrix(0.2699 0 0 0.2686 220.04 897.46)" font-size="100">Lat(<tspan font-size="69" dy="-48">o</tspan><tspan font-size="100" dy="48">N)</tspan></text>
<text transform="matrix(0 -0.2719 0.2800 0 25.22 716.28)" font-size="100">Lon(<tspan font-size="69" dy="-48">o</tspan><tspan font-size="100" dy="48">E)</tspan></text>
<text transform="matrix(0.2735 0 0 0.2648 637.53 460.84)" font-size="100">20</text>
<text transform="matrix(0.2657 0 0 0.2648 712.94 460.84)" font-size="100">40</text>
<text transform="matrix(0.2735 0 0 0.2648 786.67 460.84)" font-size="100">60</text>
<text transform="matrix(0.2709 0 0 0.2648 861.53 460.84)" font-size="100">80</text>
<text transform="matrix(0.2677 0 0 0.2648 928.24 460.84)" font-size="100">100</text>
<text transform="matrix(0.2677 0 0 0.2648 1002.82 460.84)" font-size="100">120</text>
<text transform="matrix(0.2677 0 0 0.2648 1077.39 460.84)" font-size="100">140</text>
<text transform="matrix(0.2677 0 0 0.2648 1151.96 460.84)" font-size="100">160</text>
<text transform="matrix(0.2677 0 0 0.2648 1226.54 460.84)" font-size="100">180</text>
<text transform="matrix(0.2687 0 0 0.2662 560.62 118.48)" font-size="100">0</text>
<text transform="matrix(0.2629 0 0 0.2662 546.47 169.84)" font-size="100">40</text>
<text transform="matrix(0.2680 0 0 0.2662 545.93 221.20)" font-size="100">80</text>
<text transform="matrix(0.2774 0 0 0.2662 529.38 272.56)" font-size="100">120</text>
<text transform="matrix(0.2774 0 0 0.2662 529.38 323.92)" font-size="100">160</text>
<text transform="matrix(0.2722 0 0 0.2662 530.24 375.28)" font-size="100">200</text>
<text transform="matrix(0.2699 0 0 0.2789 922.24 490.64)" font-size="100">Days</text>
<text transform="matrix(0 -0.2695 0.2840 0 500.34 329.66)" font-size="100">Depth (m)</text>
<text transform="matrix(0.2735 0 0 0.2648 637.53 862.64)" font-size="100">20</text>
<text transform="matrix(0.2657 0 0 0.2648 712.94 862.64)" font-size="100">40</text>
<text transform="matrix(0.2735 0 0 0.2648 786.67 862.64)" font-size="100">60</text>
<text transform="matrix(0.2709 0 0 0.2648 861.53 862.64)" font-size="100">80</text>
<text transform="matrix(0.2677 0 0 0.2648 928.24 862.64)" font-size="100">100</text>
<text transform="matrix(0.2677 0 0 0.2648 1002.82 862.64)" font-size="100">120</text>
<text transform="matrix(0.2677 0 0 0.2648 1077.39 862.64)" font-size="100">140</text>
<text transform="matrix(0.2677 0 0 0.2648 1151.96 862.64)" font-size="100">160</text>
<text transform="matrix(0.2677 0 0 0.2648 1226.54 862.64)" font-size="100">180</text>
<text transform="matrix(0.2687 0 0 0.2662 560.62 520.28)" font-size="100">0</text>
<text transform="matrix(0.2629 0 0 0.2662 546.47 571.64)" font-size="100">40</text>
<text transform="matrix(0.2680 0 0 0.2662 545.93 623.00)" font-size="100">80</text>
<text transform="matrix(0.2774 0 0 0.2662 529.38 674.36)" font-size="100">120</text>
<text transform="matrix(0.2774 0 0 0.2662 529.38 725.72)" font-size="100">160</text>
<text transform="matrix(0.2722 0 0 0.2662 530.24 777.08)" font-size="100">200</text>
<text transform="matrix(0.2699 0 0 0.2789 922.24 892.44)" font-size="100">Days</text>
<text transform="matrix(0 -0.2695 0.2840 0 500.34 731.46)" font-size="100">Depth (m)</text>
<text transform="matrix(0.2864 0 0 0.3021 80.78 141.16)" font-size="100">(a)</text>
<text transform="matrix(0.3009 0 0 0.3000 80.69 541.80)" font-size="100">(b)</text>
<text transform="matrix(0.2856 0 0 0.2957 584.79 141.49)" font-size="100">(c)</text>
<text transform="matrix(0.3027 0 0 0.3032 583.18 543.33)" font-size="100">(d)</text></g>
<rect x="77.6" y="27" width="18.8" height="15.8" fill="#00008F"/><rect x="96.1" y="27" width="18.8" height="15.8" fill="#0000BF"/><rect x="114.7" y="27" width="18.8" height="15.8" fill="#0000EF"/><rect x="133.2" y="27" width="18.8" height="15.8" fill="#0020FF"/><rect x="151.7" y="27" width="18.8" height="15.8" fill="#0050FF"/><rect x="170.2" y="27" width="18.8" height="15.8" fill="#008FFF"/><rect x="188.8" y="27" width="18.8" height="15.8" fill="#00BFFF"/><rect x="207.3" y="27" width="18.8" height="15.8" fill="#00EFFF"/><rect x="225.8" y="27" width="18.8" height="15.8" fill="#20FFDF"/><rect x="244.4" y="27" width="18.8" height="15.8" fill="#50FFAF"/><rect x="262.9" y="27" width="18.8" height="15.8" fill="#8FFF70"/><rect x="281.4" y="27" width="18.8" height="15.8" fill="#BFFF40"/><rect x="300" y="27" width="18.8" height="15.8" fill="#EFFF10"/><rect x="318.5" y="27" width="18.8" height="15.8" fill="#FFDF00"/><rect x="337" y="27" width="18.8" height="15.8" fill="#FFAF00"/><rect x="355.6" y="27" width="18.8" height="15.8" fill="#FF7000"/><rect x="374.1" y="27" width="18.8" height="15.8" fill="#FF4000"/><rect x="392.6" y="27" width="18.8" height="15.8" fill="#FF1000"/><rect x="411.1" y="27" width="18.8" height="15.8" fill="#DF0000"/><rect x="429.7" y="27" width="18.8" height="15.8" fill="#AF0000"/><path d="M96.1 27V42.8M114.7 27V42.8M133.2 27V42.8M151.7 27V42.8M170.2 27V42.8M188.8 27V42.8M207.3 27V42.8M225.8 27V42.8M244.4 27V42.8M262.9 27V42.8M281.4 27V42.8M300 27V42.8M318.5 27V42.8M337 27V42.8M355.6 27V42.8M374.1 27V42.8M392.6 27V42.8M411.1 27V42.8M429.7 27V42.8" stroke="#111" stroke-width="1.2" fill="none"/><rect x="77.6" y="27" width="370.6" height="15.8" fill="none" stroke="#111" stroke-width="1.3"/>
<rect x="581.6" y="28.4" width="37.4" height="15.8" fill="#0000FF"/><rect x="618.7" y="28.4" width="37.4" height="15.8" fill="#1818FF"/><rect x="655.8" y="28.4" width="37.4" height="15.8" fill="#3030FF"/><rect x="692.9" y="28.4" width="37.4" height="15.8" fill="#4848FF"/><rect x="730" y="28.4" width="37.4" height="15.8" fill="#6262FD"/><rect x="767.1" y="28.4" width="37.4" height="15.8" fill="#8080FB"/><rect x="804.2" y="28.4" width="37.4" height="15.8" fill="#9A9CF9"/><rect x="841.3" y="28.4" width="37.4" height="15.8" fill="#B1B4F9"/><rect x="878.4" y="28.4" width="37.4" height="15.8" fill="#C9CFF7"/><rect x="915.5" y="28.4" width="37.4" height="15.8" fill="#E0EAF8"/><rect x="952.6" y="28.4" width="37.4" height="15.8" fill="#FFF5F5"/><rect x="989.7" y="28.4" width="37.4" height="15.8" fill="#FFDDDD"/><rect x="1026.8" y="28.4" width="37.4" height="15.8" fill="#FFC6C6"/><rect x="1063.9" y="28.4" width="37.4" height="15.8" fill="#FFAEAE"/><rect x="1101" y="28.4" width="37.4" height="15.8" fill="#FF9797"/><rect x="1138.1" y="28.4" width="37.4" height="15.8" fill="#FF7A7A"/><rect x="1175.2" y="28.4" width="37.4" height="15.8" fill="#FF6262"/><rect x="1212.3" y="28.4" width="37.4" height="15.8" fill="#FF4A4A"/><rect x="1249.4" y="28.4" width="37.4" height="15.8" fill="#FF3232"/><rect x="1286.5" y="28.4" width="37.4" height="15.8" fill="#FF1A1A"/><path d="M618.7 28.4V44.2M655.8 28.4V44.2M692.9 28.4V44.2M730 28.4V44.2M767.1 28.4V44.2M804.2 28.4V44.2M841.3 28.4V44.2M878.4 28.4V44.2M915.5 28.4V44.2M952.6 28.4V44.2M989.7 28.4V44.2M1026.8 28.4V44.2M1063.9 28.4V44.2M1101 28.4V44.2M1138.1 28.4V44.2M1175.2 28.4V44.2M1212.3 28.4V44.2M1249.4 28.4V44.2M1286.5 28.4V44.2" stroke="#111" stroke-width="1.2" fill="none"/><rect x="581.6" y="28.4" width="742" height="15.8" fill="none" stroke="#111" stroke-width="1.3"/>
</svg></body></html>
